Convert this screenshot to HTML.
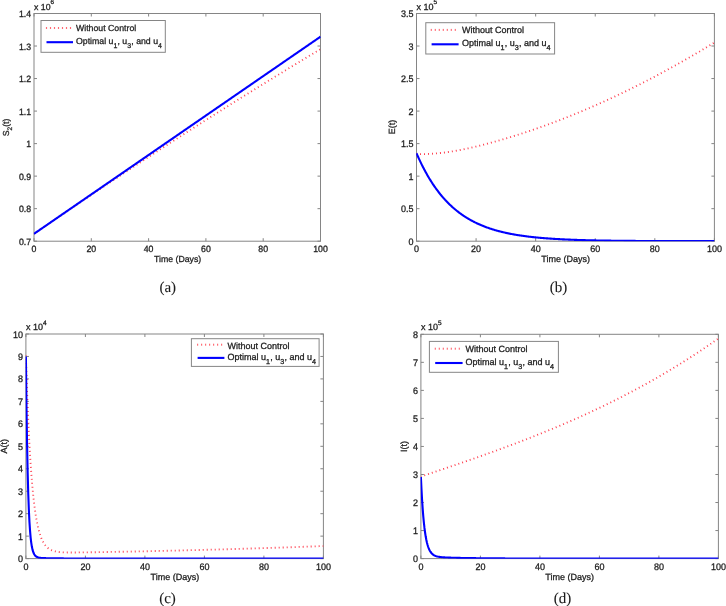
<!DOCTYPE html>
<html><head><meta charset="utf-8"><title>Figure</title>
<style>
html,body{margin:0;padding:0;background:#fff;}
body{width:726px;height:606px;overflow:hidden;}
svg{display:block;font-family:"Liberation Sans", sans-serif;will-change:transform;}
text{stroke:#222;stroke-width:0.28px;text-rendering:geometricPrecision;}
text.cap{stroke-width:0.1px;}
</style></head><body>
<svg width="726" height="606" viewBox="0 0 726 606">
<rect width="726" height="606" fill="#fff"/>
<path d="M34 241.2v-3M34 13.5v3M91.3 241.2v-3M91.3 13.5v3M148.6 241.2v-3M148.6 13.5v3M205.9 241.2v-3M205.9 13.5v3M263.2 241.2v-3M263.2 13.5v3M320.5 241.2v-3M320.5 13.5v3M34 241.2h3M320.5 241.2h-3M34 208.67h3M320.5 208.67h-3M34 176.14h3M320.5 176.14h-3M34 143.61h3M320.5 143.61h-3M34 111.09h3M320.5 111.09h-3M34 78.56h3M320.5 78.56h-3M34 46.03h3M320.5 46.03h-3M34 13.5h3M320.5 13.5h-3" stroke="#858585" stroke-width="1" fill="none"/>
<rect x="34" y="13.5" width="286.5" height="227.7" fill="none" stroke="#858585" stroke-width="1"/>
<g font-size="8.74" fill="#1a1a1a"><text transform="translate(34 251.6) scale(1 1.05)" text-anchor="middle">0</text><text transform="translate(91.3 251.6) scale(1 1.05)" text-anchor="middle">20</text><text transform="translate(148.6 251.6) scale(1 1.05)" text-anchor="middle">40</text><text transform="translate(205.9 251.6) scale(1 1.05)" text-anchor="middle">60</text><text transform="translate(263.2 251.6) scale(1 1.05)" text-anchor="middle">80</text><text transform="translate(320.5 251.6) scale(1 1.05)" text-anchor="middle">100</text><text transform="translate(31.1 244.68) scale(1 1.05)" text-anchor="end">0.7</text><text transform="translate(31.1 212.15) scale(1 1.05)" text-anchor="end">0.8</text><text transform="translate(31.1 179.63) scale(1 1.05)" text-anchor="end">0.9</text><text transform="translate(31.1 147.1) scale(1 1.05)" text-anchor="end">1</text><text transform="translate(31.1 114.57) scale(1 1.05)" text-anchor="end">1.1</text><text transform="translate(31.1 82.04) scale(1 1.05)" text-anchor="end">1.2</text><text transform="translate(31.1 49.51) scale(1 1.05)" text-anchor="end">1.3</text><text transform="translate(31.1 16.98) scale(1 1.05)" text-anchor="end">1.4</text></g>
<clipPath id="cA"><rect x="33.7" y="13.2" width="287.1" height="228.05"/></clipPath>
<g clip-path="url(#cA)">
<path d="M34 233.82 L34.29 233.62 L34.57 233.42 L34.86 233.22 L35.15 233.03 L35.43 232.83 L35.72 232.63 L36.01 232.44 L36.29 232.24 L36.58 232.04 L36.87 231.85 L37.15 231.65 L37.44 231.45 L37.73 231.25 L38.01 231.06 L38.3 230.86 L38.59 230.66 L38.87 230.47 L39.16 230.27 L39.45 230.07 L39.73 229.88 L40.02 229.68 L40.31 229.48 L40.59 229.29 L40.88 229.09 L41.16 228.89 L41.45 228.7 L41.74 228.5 L42.02 228.3 L42.31 228.11 L42.6 227.91 L42.88 227.72 L43.17 227.52 L43.46 227.32 L43.74 227.13 L44.03 226.93 L44.32 226.73 L44.6 226.54 L44.89 226.34 L45.18 226.14 L45.46 225.95 L45.75 225.75 L46.04 225.56 L46.32 225.36 L46.61 225.16 L46.9 224.97 L47.18 224.77 L47.47 224.58 L47.76 224.38 L48.04 224.18 L48.33 223.99 L48.62 223.79 L48.9 223.6 L49.19 223.4 L49.48 223.2 L49.76 223.01 L50.05 222.81 L50.34 222.62 L50.62 222.42 L50.91 222.23 L51.2 222.03 L51.48 221.83 L51.77 221.64 L52.06 221.44 L52.34 221.25 L52.63 221.05 L52.92 220.86 L53.2 220.66 L53.49 220.46 L53.78 220.27 L54.06 220.07 L54.35 219.88 L54.63 219.68 L54.92 219.49 L55.21 219.29 L55.49 219.1 L55.78 218.9 L56.07 218.71 L56.35 218.51 L56.64 218.32 L56.93 218.12 L57.21 217.93 L57.5 217.73 L57.79 217.53 L58.07 217.34 L58.36 217.14 L58.65 216.95 L58.93 216.75 L59.22 216.56 L59.51 216.36 L59.79 216.17 L60.08 215.97 L60.37 215.78 L60.65 215.58 L60.94 215.39 L61.23 215.19 L61.51 215 L61.8 214.81 L62.09 214.61 L62.37 214.42 L62.66 214.22 L62.95 214.03 L63.23 213.83 L63.52 213.64 L63.81 213.44 L64.09 213.25 L64.38 213.05 L64.67 212.86 L64.95 212.66 L65.24 212.47 L65.53 212.28 L65.81 212.08 L66.1 211.89 L66.39 211.69 L66.67 211.5 L66.96 211.3 L67.25 211.11 L67.53 210.91 L67.82 210.72 L68.1 210.53 L68.39 210.33 L68.68 210.14 L68.96 209.94 L69.25 209.75 L69.54 209.56 L69.82 209.36 L70.11 209.17 L70.4 208.97 L70.68 208.78 L70.97 208.59 L71.26 208.39 L71.54 208.2 L71.83 208 L72.12 207.81 L72.4 207.62 L72.69 207.42 L72.98 207.23 L73.26 207.03 L73.55 206.84 L73.84 206.65 L74.12 206.45 L74.41 206.26 L74.7 206.07 L74.98 205.87 L75.27 205.68 L75.56 205.48 L75.84 205.29 L76.13 205.1 L76.42 204.9 L76.7 204.71 L76.99 204.52 L77.28 204.32 L77.56 204.13 L77.85 203.94 L78.14 203.74 L78.42 203.55 L78.71 203.36 L79 203.16 L79.28 202.97 L79.57 202.78 L79.86 202.58 L80.14 202.39 L80.43 202.2 L80.72 202 L81 201.81 L81.29 201.62 L81.57 201.42 L81.86 201.23 L82.15 201.04 L82.43 200.85 L82.72 200.65 L83.01 200.46 L83.29 200.27 L83.58 200.07 L83.87 199.88 L84.15 199.69 L84.44 199.49 L84.73 199.3 L85.01 199.11 L85.3 198.92 L85.59 198.72 L85.87 198.53 L86.16 198.34 L86.45 198.15 L86.73 197.95 L87.02 197.76 L87.31 197.57 L87.59 197.38 L87.88 197.18 L88.17 196.99 L88.45 196.8 L88.74 196.61 L89.03 196.41 L89.31 196.22 L89.6 196.03 L89.89 195.84 L90.17 195.64 L90.46 195.45 L90.75 195.26 L91.03 195.07 L91.32 194.87 L91.61 194.68 L91.89 194.49 L92.18 194.3 L92.47 194.11 L92.75 193.91 L93.04 193.72 L93.33 193.53 L93.61 193.34 L93.9 193.15 L94.19 192.95 L94.47 192.76 L94.76 192.57 L95.04 192.38 L95.33 192.19 L95.62 191.99 L95.9 191.8 L96.19 191.61 L96.48 191.42 L96.76 191.23 L97.05 191.03 L97.34 190.84 L97.62 190.65 L97.91 190.46 L98.2 190.27 L98.48 190.08 L98.77 189.88 L99.06 189.69 L99.34 189.5 L99.63 189.31 L99.92 189.12 L100.2 188.93 L100.49 188.74 L100.78 188.54 L101.06 188.35 L101.35 188.16 L101.64 187.97 L101.92 187.78 L102.21 187.59 L102.5 187.4 L102.78 187.21 L103.07 187.01 L103.36 186.82 L103.64 186.63 L103.93 186.44 L104.22 186.25 L104.5 186.06 L104.79 185.87 L105.08 185.68 L105.36 185.48 L105.65 185.29 L105.94 185.1 L106.22 184.91 L106.51 184.72 L106.8 184.53 L107.08 184.34 L107.37 184.15 L107.66 183.96 L107.94 183.77 L108.23 183.58 L108.51 183.39 L108.8 183.19 L109.09 183 L109.37 182.81 L109.66 182.62 L109.95 182.43 L110.23 182.24 L110.52 182.05 L110.81 181.86 L111.09 181.67 L111.38 181.48 L111.67 181.29 L111.95 181.1 L112.24 180.91 L112.53 180.72 L112.81 180.53 L113.1 180.34 L113.39 180.15 L113.67 179.96 L113.96 179.77 L114.25 179.58 L114.53 179.39 L114.82 179.19 L115.11 179 L115.39 178.81 L115.68 178.62 L115.97 178.43 L116.25 178.24 L116.54 178.05 L116.83 177.86 L117.11 177.67 L117.4 177.48 L117.69 177.29 L117.97 177.1 L118.26 176.91 L118.55 176.72 L118.83 176.53 L119.12 176.34 L119.41 176.16 L119.69 175.97 L119.98 175.78 L120.27 175.59 L120.55 175.4 L120.84 175.21 L121.13 175.02 L121.41 174.83 L121.7 174.64 L121.98 174.45 L122.27 174.26 L122.56 174.07 L122.84 173.88 L123.13 173.69 L123.42 173.5 L123.7 173.31 L123.99 173.12 L124.28 172.93 L124.56 172.74 L124.85 172.55 L125.14 172.36 L125.42 172.17 L125.71 171.99 L126 171.8 L126.28 171.61 L126.57 171.42 L126.86 171.23 L127.14 171.04 L127.43 170.85 L127.72 170.66 L128 170.47 L128.29 170.28 L128.58 170.09 L128.86 169.91 L129.15 169.72 L129.44 169.53 L129.72 169.34 L130.01 169.15 L130.3 168.96 L130.58 168.77 L130.87 168.58 L131.16 168.39 L131.44 168.21 L131.73 168.02 L132.02 167.83 L132.3 167.64 L132.59 167.45 L132.88 167.26 L133.16 167.07 L133.45 166.88 L133.74 166.7 L134.02 166.51 L134.31 166.32 L134.6 166.13 L134.88 165.94 L135.17 165.75 L135.45 165.57 L135.74 165.38 L136.03 165.19 L136.31 165 L136.6 164.81 L136.89 164.62 L137.17 164.44 L137.46 164.25 L137.75 164.06 L138.03 163.87 L138.32 163.68 L138.61 163.49 L138.89 163.31 L139.18 163.12 L139.47 162.93 L139.75 162.74 L140.04 162.55 L140.33 162.37 L140.61 162.18 L140.9 161.99 L141.19 161.8 L141.47 161.61 L141.76 161.43 L142.05 161.24 L142.33 161.05 L142.62 160.86 L142.91 160.68 L143.19 160.49 L143.48 160.3 L143.77 160.11 L144.05 159.92 L144.34 159.74 L144.63 159.55 L144.91 159.36 L145.2 159.17 L145.49 158.99 L145.77 158.8 L146.06 158.61 L146.35 158.42 L146.63 158.24 L146.92 158.05 L147.21 157.86 L147.49 157.67 L147.78 157.49 L148.07 157.3 L148.35 157.11 L148.64 156.92 L148.92 156.74 L149.21 156.55 L149.5 156.36 L149.78 156.18 L150.07 155.99 L150.36 155.8 L150.64 155.61 L150.93 155.43 L151.22 155.24 L151.5 155.05 L151.79 154.87 L152.08 154.68 L152.36 154.49 L152.65 154.31 L152.94 154.12 L153.22 153.93 L153.51 153.74 L153.8 153.56 L154.08 153.37 L154.37 153.18 L154.66 153 L154.94 152.81 L155.23 152.62 L155.52 152.44 L155.8 152.25 L156.09 152.06 L156.38 151.88 L156.66 151.69 L156.95 151.5 L157.24 151.32 L157.52 151.13 L157.81 150.94 L158.1 150.76 L158.38 150.57 L158.67 150.39 L158.96 150.2 L159.24 150.01 L159.53 149.83 L159.82 149.64 L160.1 149.45 L160.39 149.27 L160.68 149.08 L160.96 148.9 L161.25 148.71 L161.54 148.52 L161.82 148.34 L162.11 148.15 L162.39 147.96 L162.68 147.78 L162.97 147.59 L163.25 147.41 L163.54 147.22 L163.83 147.03 L164.11 146.85 L164.4 146.66 L164.69 146.48 L164.97 146.29 L165.26 146.1 L165.55 145.92 L165.83 145.73 L166.12 145.55 L166.41 145.36 L166.69 145.18 L166.98 144.99 L167.27 144.8 L167.55 144.62 L167.84 144.43 L168.13 144.25 L168.41 144.06 L168.7 143.88 L168.99 143.69 L169.27 143.51 L169.56 143.32 L169.85 143.13 L170.13 142.95 L170.42 142.76 L170.71 142.58 L170.99 142.39 L171.28 142.21 L171.57 142.02 L171.85 141.84 L172.14 141.65 L172.43 141.47 L172.71 141.28 L173 141.1 L173.29 140.91 L173.57 140.73 L173.86 140.54 L174.15 140.36 L174.43 140.17 L174.72 139.99 L175.01 139.8 L175.29 139.62 L175.58 139.43 L175.86 139.25 L176.15 139.06 L176.44 138.88 L176.72 138.69 L177.01 138.51 L177.3 138.32 L177.58 138.14 L177.87 137.95 L178.16 137.77 L178.44 137.58 L178.73 137.4 L179.02 137.21 L179.3 137.03 L179.59 136.84 L179.88 136.66 L180.16 136.48 L180.45 136.29 L180.74 136.11 L181.02 135.92 L181.31 135.74 L181.6 135.55 L181.88 135.37 L182.17 135.18 L182.46 135 L182.74 134.82 L183.03 134.63 L183.32 134.45 L183.6 134.26 L183.89 134.08 L184.18 133.89 L184.46 133.71 L184.75 133.53 L185.04 133.34 L185.32 133.16 L185.61 132.97 L185.9 132.79 L186.18 132.61 L186.47 132.42 L186.76 132.24 L187.04 132.05 L187.33 131.87 L187.62 131.69 L187.9 131.5 L188.19 131.32 L188.47 131.13 L188.76 130.95 L189.05 130.77 L189.33 130.58 L189.62 130.4 L189.91 130.22 L190.19 130.03 L190.48 129.85 L190.77 129.66 L191.05 129.48 L191.34 129.3 L191.63 129.11 L191.91 128.93 L192.2 128.75 L192.49 128.56 L192.77 128.38 L193.06 128.2 L193.35 128.01 L193.63 127.83 L193.92 127.65 L194.21 127.46 L194.49 127.28 L194.78 127.1 L195.07 126.91 L195.35 126.73 L195.64 126.55 L195.93 126.36 L196.21 126.18 L196.5 126 L196.79 125.81 L197.07 125.63 L197.36 125.45 L197.65 125.26 L197.93 125.08 L198.22 124.9 L198.51 124.72 L198.79 124.53 L199.08 124.35 L199.37 124.17 L199.65 123.98 L199.94 123.8 L200.23 123.62 L200.51 123.44 L200.8 123.25 L201.09 123.07 L201.37 122.89 L201.66 122.7 L201.94 122.52 L202.23 122.34 L202.52 122.16 L202.8 121.97 L203.09 121.79 L203.38 121.61 L203.66 121.43 L203.95 121.24 L204.24 121.06 L204.52 120.88 L204.81 120.7 L205.1 120.51 L205.38 120.33 L205.67 120.15 L205.96 119.97 L206.24 119.78 L206.53 119.6 L206.82 119.42 L207.1 119.24 L207.39 119.06 L207.68 118.87 L207.96 118.69 L208.25 118.51 L208.54 118.33 L208.82 118.15 L209.11 117.96 L209.4 117.78 L209.68 117.6 L209.97 117.42 L210.26 117.24 L210.54 117.05 L210.83 116.87 L211.12 116.69 L211.4 116.51 L211.69 116.33 L211.98 116.14 L212.26 115.96 L212.55 115.78 L212.84 115.6 L213.12 115.42 L213.41 115.24 L213.7 115.05 L213.98 114.87 L214.27 114.69 L214.56 114.51 L214.84 114.33 L215.13 114.15 L215.41 113.96 L215.7 113.78 L215.99 113.6 L216.27 113.42 L216.56 113.24 L216.85 113.06 L217.13 112.88 L217.42 112.69 L217.71 112.51 L217.99 112.33 L218.28 112.15 L218.57 111.97 L218.85 111.79 L219.14 111.61 L219.43 111.43 L219.71 111.25 L220 111.06 L220.29 110.88 L220.57 110.7 L220.86 110.52 L221.15 110.34 L221.43 110.16 L221.72 109.98 L222.01 109.8 L222.29 109.62 L222.58 109.44 L222.87 109.25 L223.15 109.07 L223.44 108.89 L223.73 108.71 L224.01 108.53 L224.3 108.35 L224.59 108.17 L224.87 107.99 L225.16 107.81 L225.45 107.63 L225.73 107.45 L226.02 107.27 L226.31 107.09 L226.59 106.91 L226.88 106.72 L227.17 106.54 L227.45 106.36 L227.74 106.18 L228.03 106 L228.31 105.82 L228.6 105.64 L228.88 105.46 L229.17 105.28 L229.46 105.1 L229.74 104.92 L230.03 104.74 L230.32 104.56 L230.6 104.38 L230.89 104.2 L231.18 104.02 L231.46 103.84 L231.75 103.66 L232.04 103.48 L232.32 103.3 L232.61 103.12 L232.9 102.94 L233.18 102.76 L233.47 102.58 L233.76 102.4 L234.04 102.22 L234.33 102.04 L234.62 101.86 L234.9 101.68 L235.19 101.5 L235.48 101.32 L235.76 101.14 L236.05 100.96 L236.34 100.78 L236.62 100.6 L236.91 100.42 L237.2 100.24 L237.48 100.06 L237.77 99.88 L238.06 99.7 L238.34 99.52 L238.63 99.35 L238.92 99.17 L239.2 98.99 L239.49 98.81 L239.78 98.63 L240.06 98.45 L240.35 98.27 L240.64 98.09 L240.92 97.91 L241.21 97.73 L241.5 97.55 L241.78 97.37 L242.07 97.19 L242.35 97.01 L242.64 96.84 L242.93 96.66 L243.21 96.48 L243.5 96.3 L243.79 96.12 L244.07 95.94 L244.36 95.76 L244.65 95.58 L244.93 95.4 L245.22 95.22 L245.51 95.05 L245.79 94.87 L246.08 94.69 L246.37 94.51 L246.65 94.33 L246.94 94.15 L247.23 93.97 L247.51 93.79 L247.8 93.61 L248.09 93.44 L248.37 93.26 L248.66 93.08 L248.95 92.9 L249.23 92.72 L249.52 92.54 L249.81 92.36 L250.09 92.19 L250.38 92.01 L250.67 91.83 L250.95 91.65 L251.24 91.47 L251.53 91.29 L251.81 91.12 L252.1 90.94 L252.39 90.76 L252.67 90.58 L252.96 90.4 L253.25 90.22 L253.53 90.05 L253.82 89.87 L254.11 89.69 L254.39 89.51 L254.68 89.33 L254.97 89.16 L255.25 88.98 L255.54 88.8 L255.82 88.62 L256.11 88.44 L256.4 88.27 L256.68 88.09 L256.97 87.91 L257.26 87.73 L257.54 87.55 L257.83 87.38 L258.12 87.2 L258.4 87.02 L258.69 86.84 L258.98 86.66 L259.26 86.49 L259.55 86.31 L259.84 86.13 L260.12 85.95 L260.41 85.78 L260.7 85.6 L260.98 85.42 L261.27 85.24 L261.56 85.07 L261.84 84.89 L262.13 84.71 L262.42 84.53 L262.7 84.36 L262.99 84.18 L263.28 84 L263.56 83.82 L263.85 83.65 L264.14 83.47 L264.42 83.29 L264.71 83.12 L265 82.94 L265.28 82.76 L265.57 82.58 L265.86 82.41 L266.14 82.23 L266.43 82.05 L266.72 81.88 L267 81.7 L267.29 81.52 L267.58 81.34 L267.86 81.17 L268.15 80.99 L268.44 80.81 L268.72 80.64 L269.01 80.46 L269.29 80.28 L269.58 80.11 L269.87 79.93 L270.15 79.75 L270.44 79.58 L270.73 79.4 L271.01 79.22 L271.3 79.05 L271.59 78.87 L271.87 78.69 L272.16 78.52 L272.45 78.34 L272.73 78.16 L273.02 77.99 L273.31 77.81 L273.59 77.63 L273.88 77.46 L274.17 77.28 L274.45 77.1 L274.74 76.93 L275.03 76.75 L275.31 76.58 L275.6 76.4 L275.89 76.22 L276.17 76.05 L276.46 75.87 L276.75 75.69 L277.03 75.52 L277.32 75.34 L277.61 75.17 L277.89 74.99 L278.18 74.81 L278.47 74.64 L278.75 74.46 L279.04 74.29 L279.33 74.11 L279.61 73.93 L279.9 73.76 L280.19 73.58 L280.47 73.41 L280.76 73.23 L281.05 73.05 L281.33 72.88 L281.62 72.7 L281.91 72.53 L282.19 72.35 L282.48 72.18 L282.76 72 L283.05 71.82 L283.34 71.65 L283.62 71.47 L283.91 71.3 L284.2 71.12 L284.48 70.95 L284.77 70.77 L285.06 70.6 L285.34 70.42 L285.63 70.24 L285.92 70.07 L286.2 69.89 L286.49 69.72 L286.78 69.54 L287.06 69.37 L287.35 69.19 L287.64 69.02 L287.92 68.84 L288.21 68.67 L288.5 68.49 L288.78 68.32 L289.07 68.14 L289.36 67.97 L289.64 67.79 L289.93 67.62 L290.22 67.44 L290.5 67.27 L290.79 67.09 L291.08 66.92 L291.36 66.74 L291.65 66.57 L291.94 66.39 L292.22 66.22 L292.51 66.04 L292.8 65.87 L293.08 65.69 L293.37 65.52 L293.66 65.34 L293.94 65.17 L294.23 64.99 L294.52 64.82 L294.8 64.64 L295.09 64.47 L295.38 64.29 L295.66 64.12 L295.95 63.95 L296.23 63.77 L296.52 63.6 L296.81 63.42 L297.09 63.25 L297.38 63.07 L297.67 62.9 L297.95 62.72 L298.24 62.55 L298.53 62.38 L298.81 62.2 L299.1 62.03 L299.39 61.85 L299.67 61.68 L299.96 61.5 L300.25 61.33 L300.53 61.16 L300.82 60.98 L301.11 60.81 L301.39 60.63 L301.68 60.46 L301.97 60.29 L302.25 60.11 L302.54 59.94 L302.83 59.76 L303.11 59.59 L303.4 59.42 L303.69 59.24 L303.97 59.07 L304.26 58.9 L304.55 58.72 L304.83 58.55 L305.12 58.37 L305.41 58.2 L305.69 58.03 L305.98 57.85 L306.27 57.68 L306.55 57.51 L306.84 57.33 L307.13 57.16 L307.41 56.98 L307.7 56.81 L307.99 56.64 L308.27 56.46 L308.56 56.29 L308.85 56.12 L309.13 55.94 L309.42 55.77 L309.7 55.6 L309.99 55.42 L310.28 55.25 L310.56 55.08 L310.85 54.9 L311.14 54.73 L311.42 54.56 L311.71 54.38 L312 54.21 L312.28 54.04 L312.57 53.87 L312.86 53.69 L313.14 53.52 L313.43 53.35 L313.72 53.17 L314 53 L314.29 52.83 L314.58 52.65 L314.86 52.48 L315.15 52.31 L315.44 52.14 L315.72 51.96 L316.01 51.79 L316.3 51.62 L316.58 51.44 L316.87 51.27 L317.16 51.1 L317.44 50.93 L317.73 50.75 L318.02 50.58 L318.3 50.41 L318.59 50.24 L318.88 50.06 L319.16 49.89 L319.45 49.72 L319.74 49.55 L320.02 49.37 L320.31 49.2 L320.5 49.09" fill="none" stroke="#ff4050" stroke-width="1.85" stroke-dasharray="1.0 3" stroke-dashoffset="0.5"/>
<path d="M34 233.82 L34.57 233.42 L35.15 233.03 L35.72 232.63 L36.29 232.24 L36.87 231.84 L37.44 231.45 L38.01 231.05 L38.59 230.66 L39.16 230.27 L39.73 229.87 L40.31 229.48 L40.88 229.08 L41.45 228.69 L42.03 228.29 L42.6 227.9 L43.17 227.5 L43.75 227.11 L44.32 226.72 L44.89 226.32 L45.47 225.93 L46.04 225.53 L46.61 225.14 L47.19 224.74 L47.76 224.35 L48.33 223.95 L48.91 223.56 L49.48 223.17 L50.05 222.77 L50.63 222.38 L51.2 221.98 L51.77 221.59 L52.35 221.19 L52.92 220.8 L53.49 220.4 L54.07 220.01 L54.64 219.62 L55.21 219.22 L55.78 218.83 L56.36 218.43 L56.93 218.04 L57.5 217.64 L58.08 217.25 L58.65 216.85 L59.22 216.46 L59.8 216.07 L60.37 215.67 L60.94 215.28 L61.52 214.88 L62.09 214.49 L62.66 214.09 L63.24 213.7 L63.81 213.3 L64.38 212.91 L64.96 212.52 L65.53 212.12 L66.1 211.73 L66.68 211.33 L67.25 210.94 L67.82 210.54 L68.4 210.15 L68.97 209.75 L69.54 209.36 L70.12 208.97 L70.69 208.57 L71.26 208.18 L71.84 207.78 L72.41 207.39 L72.98 206.99 L73.56 206.6 L74.13 206.2 L74.7 205.81 L75.28 205.42 L75.85 205.02 L76.42 204.63 L77 204.23 L77.57 203.84 L78.14 203.44 L78.72 203.05 L79.29 202.65 L79.86 202.26 L80.44 201.87 L81.01 201.47 L81.58 201.08 L82.16 200.68 L82.73 200.29 L83.3 199.89 L83.88 199.5 L84.45 199.1 L85.02 198.71 L85.6 198.32 L86.17 197.92 L86.74 197.53 L87.32 197.13 L87.89 196.74 L88.46 196.34 L89.04 195.95 L89.61 195.55 L90.18 195.16 L90.76 194.77 L91.33 194.37 L91.9 193.98 L92.48 193.58 L93.05 193.19 L93.62 192.79 L94.2 192.4 L94.77 192.01 L95.34 191.61 L95.91 191.22 L96.49 190.82 L97.06 190.43 L97.63 190.03 L98.21 189.64 L98.78 189.24 L99.35 188.85 L99.93 188.46 L100.5 188.06 L101.07 187.67 L101.65 187.27 L102.22 186.88 L102.79 186.48 L103.37 186.09 L103.94 185.69 L104.51 185.3 L105.09 184.91 L105.66 184.51 L106.23 184.12 L106.81 183.72 L107.38 183.33 L107.95 182.93 L108.53 182.54 L109.1 182.14 L109.67 181.75 L110.25 181.36 L110.82 180.96 L111.39 180.57 L111.97 180.17 L112.54 179.78 L113.11 179.38 L113.69 178.99 L114.26 178.59 L114.83 178.2 L115.41 177.81 L115.98 177.41 L116.55 177.02 L117.13 176.62 L117.7 176.23 L118.27 175.83 L118.85 175.44 L119.42 175.04 L119.99 174.65 L120.57 174.26 L121.14 173.86 L121.71 173.47 L122.29 173.07 L122.86 172.68 L123.43 172.28 L124.01 171.89 L124.58 171.49 L125.15 171.1 L125.73 170.71 L126.3 170.31 L126.87 169.92 L127.45 169.52 L128.02 169.13 L128.59 168.73 L129.17 168.34 L129.74 167.94 L130.31 167.55 L130.89 167.16 L131.46 166.76 L132.03 166.37 L132.61 165.97 L133.18 165.58 L133.75 165.18 L134.33 164.79 L134.9 164.39 L135.47 164 L136.05 163.61 L136.62 163.21 L137.19 162.82 L137.76 162.42 L138.34 162.03 L138.91 161.63 L139.48 161.24 L140.06 160.84 L140.63 160.45 L141.2 160.06 L141.78 159.66 L142.35 159.27 L142.92 158.87 L143.5 158.48 L144.07 158.08 L144.64 157.69 L145.22 157.29 L145.79 156.9 L146.36 156.51 L146.94 156.11 L147.51 155.72 L148.08 155.32 L148.66 154.93 L149.23 154.53 L149.8 154.14 L150.38 153.74 L150.95 153.35 L151.52 152.96 L152.1 152.56 L152.67 152.17 L153.24 151.77 L153.82 151.38 L154.39 150.98 L154.96 150.59 L155.54 150.19 L156.11 149.8 L156.68 149.41 L157.26 149.01 L157.83 148.62 L158.4 148.22 L158.98 147.83 L159.55 147.43 L160.12 147.04 L160.7 146.64 L161.27 146.25 L161.84 145.86 L162.42 145.46 L162.99 145.07 L163.56 144.67 L164.14 144.28 L164.71 143.88 L165.28 143.49 L165.86 143.09 L166.43 142.7 L167 142.31 L167.58 141.91 L168.15 141.52 L168.72 141.12 L169.3 140.73 L169.87 140.33 L170.44 139.94 L171.02 139.54 L171.59 139.15 L172.16 138.76 L172.74 138.36 L173.31 137.97 L173.88 137.57 L174.46 137.18 L175.03 136.78 L175.6 136.39 L176.18 135.99 L176.75 135.6 L177.32 135.21 L177.89 134.81 L178.47 134.42 L179.04 134.02 L179.61 133.63 L180.19 133.23 L180.76 132.84 L181.33 132.44 L181.91 132.05 L182.48 131.66 L183.05 131.26 L183.63 130.87 L184.2 130.47 L184.77 130.08 L185.35 129.68 L185.92 129.29 L186.49 128.89 L187.07 128.5 L187.64 128.11 L188.21 127.71 L188.79 127.32 L189.36 126.92 L189.93 126.53 L190.51 126.13 L191.08 125.74 L191.65 125.34 L192.23 124.95 L192.8 124.56 L193.37 124.16 L193.95 123.77 L194.52 123.37 L195.09 122.98 L195.67 122.58 L196.24 122.19 L196.81 121.79 L197.39 121.4 L197.96 121.01 L198.53 120.61 L199.11 120.22 L199.68 119.82 L200.25 119.43 L200.83 119.03 L201.4 118.64 L201.97 118.24 L202.55 117.85 L203.12 117.46 L203.69 117.06 L204.27 116.67 L204.84 116.27 L205.41 115.88 L205.99 115.48 L206.56 115.09 L207.13 114.69 L207.71 114.3 L208.28 113.91 L208.85 113.51 L209.43 113.12 L210 112.72 L210.57 112.33 L211.15 111.93 L211.72 111.54 L212.29 111.14 L212.87 110.75 L213.44 110.36 L214.01 109.96 L214.59 109.57 L215.16 109.17 L215.73 108.78 L216.31 108.38 L216.88 107.99 L217.45 107.59 L218.03 107.2 L218.6 106.81 L219.17 106.41 L219.74 106.02 L220.32 105.62 L220.89 105.23 L221.46 104.83 L222.04 104.44 L222.61 104.04 L223.18 103.65 L223.76 103.26 L224.33 102.86 L224.9 102.47 L225.48 102.07 L226.05 101.68 L226.62 101.28 L227.2 100.89 L227.77 100.49 L228.34 100.1 L228.92 99.71 L229.49 99.31 L230.06 98.92 L230.64 98.52 L231.21 98.13 L231.78 97.73 L232.36 97.34 L232.93 96.94 L233.5 96.55 L234.08 96.16 L234.65 95.76 L235.22 95.37 L235.8 94.97 L236.37 94.58 L236.94 94.18 L237.52 93.79 L238.09 93.39 L238.66 93 L239.24 92.61 L239.81 92.21 L240.38 91.82 L240.96 91.42 L241.53 91.03 L242.1 90.63 L242.68 90.24 L243.25 89.84 L243.82 89.45 L244.4 89.06 L244.97 88.66 L245.54 88.27 L246.12 87.87 L246.69 87.48 L247.26 87.08 L247.84 86.69 L248.41 86.29 L248.98 85.9 L249.56 85.51 L250.13 85.11 L250.7 84.72 L251.28 84.32 L251.85 83.93 L252.42 83.53 L253 83.14 L253.57 82.74 L254.14 82.35 L254.72 81.96 L255.29 81.56 L255.86 81.17 L256.44 80.77 L257.01 80.38 L257.58 79.98 L258.16 79.59 L258.73 79.19 L259.3 78.8 L259.87 78.41 L260.45 78.01 L261.02 77.62 L261.59 77.22 L262.17 76.83 L262.74 76.43 L263.31 76.04 L263.89 75.64 L264.46 75.25 L265.03 74.86 L265.61 74.46 L266.18 74.07 L266.75 73.67 L267.33 73.28 L267.9 72.88 L268.47 72.49 L269.05 72.09 L269.62 71.7 L270.19 71.31 L270.77 70.91 L271.34 70.52 L271.91 70.12 L272.49 69.73 L273.06 69.33 L273.63 68.94 L274.21 68.54 L274.78 68.15 L275.35 67.76 L275.93 67.36 L276.5 66.97 L277.07 66.57 L277.65 66.18 L278.22 65.78 L278.79 65.39 L279.37 64.99 L279.94 64.6 L280.51 64.21 L281.09 63.81 L281.66 63.42 L282.23 63.02 L282.81 62.63 L283.38 62.23 L283.95 61.84 L284.53 61.44 L285.1 61.05 L285.67 60.66 L286.25 60.26 L286.82 59.87 L287.39 59.47 L287.97 59.08 L288.54 58.68 L289.11 58.29 L289.69 57.89 L290.26 57.5 L290.83 57.11 L291.41 56.71 L291.98 56.32 L292.55 55.92 L293.13 55.53 L293.7 55.13 L294.27 54.74 L294.85 54.34 L295.42 53.95 L295.99 53.56 L296.57 53.16 L297.14 52.77 L297.71 52.37 L298.29 51.98 L298.86 51.58 L299.43 51.19 L300.01 50.79 L300.58 50.4 L301.15 50.01 L301.72 49.61 L302.3 49.22 L302.87 48.82 L303.44 48.43 L304.02 48.03 L304.59 47.64 L305.16 47.24 L305.74 46.85 L306.31 46.46 L306.88 46.06 L307.46 45.67 L308.03 45.27 L308.6 44.88 L309.18 44.48 L309.75 44.09 L310.32 43.69 L310.9 43.3 L311.47 42.91 L312.04 42.51 L312.62 42.12 L313.19 41.72 L313.76 41.33 L314.34 40.93 L314.91 40.54 L315.48 40.14 L316.06 39.75 L316.63 39.36 L317.2 38.96 L317.78 38.57 L318.35 38.17 L318.92 37.78 L319.5 37.38 L320.07 36.99 L320.5 36.69" fill="none" stroke="#0000ff" stroke-width="2.1" stroke-linejoin="round" stroke-linecap="butt"/>
</g>
<rect x="41" y="20.5" width="124.3" height="31.8" fill="#fff" stroke="#858585" stroke-width="1"/>
<g fill="#ff6a74"><rect x="45.92" y="27" width="1.15" height="2"/><rect x="49.92" y="27" width="1.15" height="2"/><rect x="53.92" y="27" width="1.15" height="2"/><rect x="57.92" y="27" width="1.15" height="2"/><rect x="61.92" y="27" width="1.15" height="2"/><rect x="65.92" y="27" width="1.15" height="2"/><rect x="69.92" y="27" width="1.15" height="2"/></g>
<path d="M46.5 42.2H73" stroke="#0000ff" stroke-width="2.1"/>
<g font-size="8.74" fill="#1a1a1a"><text transform="translate(76 31.2) scale(1 1.0)">Without Control</text><text transform="translate(76 43.6) scale(1 1.0)">Optimal u<tspan font-size="6.99" dy="4.11">1</tspan><tspan dx="0.2" dy="-4.11">, u</tspan><tspan font-size="6.99" dy="4.11">3</tspan><tspan dx="0.2" dy="-4.11">, and u</tspan><tspan font-size="6.99" dy="4.11">4</tspan></text></g>
<text transform="translate(34 9.6) scale(1 1.0)" font-size="8.74" fill="#1a1a1a">x 10<tspan font-size="6.29" dy="-5.42">6</tspan></text>
<text transform="translate(9 127.4) rotate(-90) scale(1 1.0)" text-anchor="middle" font-size="8.74" fill="#1a1a1a">S<tspan font-size="6.5" dy="2.5">2</tspan><tspan dy="-2.5">(t)</tspan></text>
<text transform="translate(177.6 262) scale(1 1.0)" text-anchor="middle" font-size="8.74" fill="#1a1a1a">Time (Days)</text>
<text class="cap" x="167.8" y="291.8" text-anchor="middle" font-family='"Liberation Serif", serif' font-size="15" fill="#1a1a1a">(a)</text>
<path d="M416.5 241.2v-3M416.5 13.5v3M476.08 241.2v-3M476.08 13.5v3M535.66 241.2v-3M535.66 13.5v3M595.24 241.2v-3M595.24 13.5v3M654.82 241.2v-3M654.82 13.5v3M714.4 241.2v-3M714.4 13.5v3M416.5 241.2h3M714.4 241.2h-3M416.5 208.67h3M714.4 208.67h-3M416.5 176.14h3M714.4 176.14h-3M416.5 143.61h3M714.4 143.61h-3M416.5 111.09h3M714.4 111.09h-3M416.5 78.56h3M714.4 78.56h-3M416.5 46.03h3M714.4 46.03h-3M416.5 13.5h3M714.4 13.5h-3" stroke="#858585" stroke-width="1" fill="none"/>
<rect x="416.5" y="13.5" width="297.9" height="227.7" fill="none" stroke="#858585" stroke-width="1"/>
<g font-size="9.0" fill="#1a1a1a"><text transform="translate(416.5 251.6) scale(1 1.05)" text-anchor="middle">0</text><text transform="translate(476.08 251.6) scale(1 1.05)" text-anchor="middle">20</text><text transform="translate(535.66 251.6) scale(1 1.05)" text-anchor="middle">40</text><text transform="translate(595.24 251.6) scale(1 1.05)" text-anchor="middle">60</text><text transform="translate(654.82 251.6) scale(1 1.05)" text-anchor="middle">80</text><text transform="translate(714.4 251.6) scale(1 1.05)" text-anchor="middle">100</text><text transform="translate(413.6 244.76) scale(1 1.05)" text-anchor="end">0</text><text transform="translate(413.6 212.24) scale(1 1.05)" text-anchor="end">0.5</text><text transform="translate(413.6 179.71) scale(1 1.05)" text-anchor="end">1</text><text transform="translate(413.6 147.18) scale(1 1.05)" text-anchor="end">1.5</text><text transform="translate(413.6 114.65) scale(1 1.05)" text-anchor="end">2</text><text transform="translate(413.6 82.12) scale(1 1.05)" text-anchor="end">2.5</text><text transform="translate(413.6 49.59) scale(1 1.05)" text-anchor="end">3</text><text transform="translate(413.6 17.07) scale(1 1.05)" text-anchor="end">3.5</text></g>
<clipPath id="cB"><rect x="416.2" y="13.2" width="298.5" height="228.05"/></clipPath>
<g clip-path="url(#cB)">
<path d="M416.5 154.09 L416.8 154.09 L417.1 154.1 L417.39 154.11 L417.69 154.11 L417.99 154.12 L418.29 154.12 L418.59 154.12 L418.88 154.13 L419.18 154.13 L419.48 154.13 L419.78 154.13 L420.08 154.13 L420.37 154.13 L420.67 154.13 L420.97 154.13 L421.27 154.13 L421.57 154.13 L421.86 154.13 L422.16 154.12 L422.46 154.12 L422.76 154.12 L423.06 154.11 L423.35 154.11 L423.65 154.1 L423.95 154.1 L424.25 154.09 L424.55 154.08 L424.84 154.07 L425.14 154.07 L425.44 154.06 L425.74 154.05 L426.04 154.04 L426.33 154.03 L426.63 154.02 L426.93 154.01 L427.23 153.99 L427.53 153.98 L427.82 153.97 L428.12 153.96 L428.42 153.94 L428.72 153.93 L429.02 153.91 L429.31 153.9 L429.61 153.88 L429.91 153.87 L430.21 153.85 L430.51 153.83 L430.8 153.82 L431.1 153.8 L431.4 153.78 L431.7 153.76 L432 153.74 L432.29 153.72 L432.59 153.7 L432.89 153.68 L433.19 153.66 L433.49 153.64 L433.78 153.61 L434.08 153.59 L434.38 153.57 L434.68 153.55 L434.98 153.52 L435.27 153.5 L435.57 153.47 L435.87 153.45 L436.17 153.42 L436.47 153.39 L436.76 153.37 L437.06 153.34 L437.36 153.31 L437.66 153.28 L437.96 153.26 L438.25 153.23 L438.55 153.2 L438.85 153.17 L439.15 153.14 L439.45 153.11 L439.74 153.07 L440.04 153.04 L440.34 153.01 L440.64 152.98 L440.94 152.95 L441.23 152.91 L441.53 152.88 L441.83 152.84 L442.13 152.81 L442.43 152.77 L442.72 152.74 L443.02 152.7 L443.32 152.67 L443.62 152.63 L443.92 152.59 L444.21 152.56 L444.51 152.52 L444.81 152.48 L445.11 152.44 L445.41 152.4 L445.7 152.36 L446 152.32 L446.3 152.28 L446.6 152.24 L446.9 152.2 L447.19 152.16 L447.49 152.12 L447.79 152.07 L448.09 152.03 L448.39 151.99 L448.68 151.95 L448.98 151.9 L449.28 151.86 L449.58 151.81 L449.88 151.77 L450.17 151.72 L450.47 151.68 L450.77 151.63 L451.07 151.59 L451.37 151.54 L451.66 151.49 L451.96 151.44 L452.26 151.4 L452.56 151.35 L452.86 151.3 L453.15 151.25 L453.45 151.2 L453.75 151.15 L454.05 151.1 L454.35 151.05 L454.64 151 L454.94 150.95 L455.24 150.9 L455.54 150.85 L455.84 150.79 L456.13 150.74 L456.43 150.69 L456.73 150.64 L457.03 150.58 L457.33 150.53 L457.62 150.47 L457.92 150.42 L458.22 150.36 L458.52 150.31 L458.82 150.25 L459.11 150.2 L459.41 150.14 L459.71 150.09 L460.01 150.03 L460.31 149.97 L460.6 149.92 L460.9 149.86 L461.2 149.8 L461.5 149.74 L461.8 149.68 L462.09 149.62 L462.39 149.56 L462.69 149.5 L462.99 149.45 L463.29 149.38 L463.58 149.32 L463.88 149.26 L464.18 149.2 L464.48 149.14 L464.78 149.08 L465.07 149.02 L465.37 148.96 L465.67 148.89 L465.97 148.83 L466.27 148.77 L466.56 148.7 L466.86 148.64 L467.16 148.58 L467.46 148.51 L467.76 148.45 L468.05 148.38 L468.35 148.32 L468.65 148.25 L468.95 148.19 L469.25 148.12 L469.54 148.06 L469.84 147.99 L470.14 147.92 L470.44 147.86 L470.74 147.79 L471.03 147.72 L471.33 147.65 L471.63 147.59 L471.93 147.52 L472.23 147.45 L472.52 147.38 L472.82 147.31 L473.12 147.24 L473.42 147.17 L473.72 147.1 L474.01 147.03 L474.31 146.96 L474.61 146.89 L474.91 146.82 L475.21 146.75 L475.5 146.68 L475.8 146.61 L476.1 146.54 L476.4 146.46 L476.7 146.39 L476.99 146.32 L477.29 146.25 L477.59 146.18 L477.89 146.1 L478.19 146.03 L478.48 145.96 L478.78 145.88 L479.08 145.81 L479.38 145.73 L479.68 145.66 L479.97 145.59 L480.27 145.51 L480.57 145.44 L480.87 145.36 L481.17 145.29 L481.46 145.21 L481.76 145.14 L482.06 145.06 L482.36 144.98 L482.66 144.91 L482.95 144.83 L483.25 144.75 L483.55 144.68 L483.85 144.6 L484.15 144.52 L484.44 144.45 L484.74 144.37 L485.04 144.29 L485.34 144.21 L485.64 144.13 L485.93 144.06 L486.23 143.98 L486.53 143.9 L486.83 143.82 L487.13 143.74 L487.42 143.66 L487.72 143.58 L488.02 143.5 L488.32 143.42 L488.62 143.34 L488.91 143.26 L489.21 143.18 L489.51 143.1 L489.81 143.02 L490.11 142.94 L490.4 142.86 L490.7 142.78 L491 142.7 L491.3 142.62 L491.6 142.54 L491.89 142.45 L492.19 142.37 L492.49 142.29 L492.79 142.21 L493.09 142.13 L493.38 142.05 L493.68 141.96 L493.98 141.88 L494.28 141.8 L494.58 141.71 L494.87 141.63 L495.17 141.55 L495.47 141.47 L495.77 141.38 L496.07 141.3 L496.36 141.21 L496.66 141.13 L496.96 141.05 L497.26 140.96 L497.56 140.88 L497.85 140.79 L498.15 140.71 L498.45 140.62 L498.75 140.54 L499.05 140.45 L499.34 140.37 L499.64 140.28 L499.94 140.2 L500.24 140.11 L500.54 140.03 L500.83 139.94 L501.13 139.85 L501.43 139.77 L501.73 139.68 L502.03 139.59 L502.32 139.51 L502.62 139.42 L502.92 139.33 L503.22 139.25 L503.52 139.16 L503.81 139.07 L504.11 138.98 L504.41 138.9 L504.71 138.81 L505.01 138.72 L505.3 138.63 L505.6 138.54 L505.9 138.46 L506.2 138.37 L506.5 138.28 L506.79 138.19 L507.09 138.1 L507.39 138.01 L507.69 137.92 L507.99 137.83 L508.28 137.74 L508.58 137.65 L508.88 137.56 L509.18 137.47 L509.48 137.38 L509.77 137.29 L510.07 137.2 L510.37 137.11 L510.67 137.02 L510.97 136.93 L511.26 136.84 L511.56 136.75 L511.86 136.65 L512.16 136.56 L512.46 136.47 L512.75 136.38 L513.05 136.29 L513.35 136.19 L513.65 136.1 L513.95 136.01 L514.24 135.92 L514.54 135.82 L514.84 135.73 L515.14 135.64 L515.44 135.54 L515.73 135.45 L516.03 135.36 L516.33 135.26 L516.63 135.17 L516.93 135.08 L517.22 134.98 L517.52 134.89 L517.82 134.79 L518.12 134.7 L518.42 134.6 L518.71 134.51 L519.01 134.41 L519.31 134.32 L519.61 134.22 L519.91 134.13 L520.2 134.03 L520.5 133.94 L520.8 133.84 L521.1 133.74 L521.4 133.65 L521.69 133.55 L521.99 133.46 L522.29 133.36 L522.59 133.26 L522.89 133.17 L523.18 133.07 L523.48 132.97 L523.78 132.87 L524.08 132.78 L524.38 132.68 L524.67 132.58 L524.97 132.48 L525.27 132.39 L525.57 132.29 L525.87 132.19 L526.16 132.09 L526.46 131.99 L526.76 131.89 L527.06 131.79 L527.36 131.69 L527.65 131.6 L527.95 131.5 L528.25 131.4 L528.55 131.3 L528.85 131.2 L529.14 131.1 L529.44 131 L529.74 130.9 L530.04 130.8 L530.34 130.7 L530.63 130.6 L530.93 130.49 L531.23 130.39 L531.53 130.29 L531.83 130.19 L532.12 130.09 L532.42 129.99 L532.72 129.89 L533.02 129.78 L533.32 129.68 L533.61 129.58 L533.91 129.48 L534.21 129.38 L534.51 129.27 L534.81 129.17 L535.1 129.07 L535.4 128.96 L535.7 128.86 L536 128.76 L536.3 128.65 L536.59 128.55 L536.89 128.45 L537.19 128.34 L537.49 128.24 L537.79 128.14 L538.08 128.03 L538.38 127.93 L538.68 127.82 L538.98 127.72 L539.28 127.61 L539.57 127.51 L539.87 127.4 L540.17 127.3 L540.47 127.19 L540.77 127.09 L541.06 126.98 L541.36 126.87 L541.66 126.77 L541.96 126.66 L542.26 126.56 L542.55 126.45 L542.85 126.34 L543.15 126.24 L543.45 126.13 L543.75 126.02 L544.04 125.92 L544.34 125.81 L544.64 125.7 L544.94 125.59 L545.24 125.49 L545.53 125.38 L545.83 125.27 L546.13 125.16 L546.43 125.05 L546.73 124.94 L547.02 124.84 L547.32 124.73 L547.62 124.62 L547.92 124.51 L548.22 124.4 L548.51 124.29 L548.81 124.18 L549.11 124.07 L549.41 123.96 L549.71 123.85 L550 123.74 L550.3 123.63 L550.6 123.52 L550.9 123.41 L551.2 123.3 L551.49 123.19 L551.79 123.08 L552.09 122.97 L552.39 122.86 L552.69 122.75 L552.98 122.63 L553.28 122.52 L553.58 122.41 L553.88 122.3 L554.18 122.19 L554.47 122.08 L554.77 121.96 L555.07 121.85 L555.37 121.74 L555.67 121.63 L555.96 121.51 L556.26 121.4 L556.56 121.29 L556.86 121.17 L557.16 121.06 L557.45 120.95 L557.75 120.83 L558.05 120.72 L558.35 120.6 L558.65 120.49 L558.94 120.38 L559.24 120.26 L559.54 120.15 L559.84 120.03 L560.14 119.92 L560.43 119.8 L560.73 119.69 L561.03 119.57 L561.33 119.46 L561.63 119.34 L561.92 119.23 L562.22 119.11 L562.52 118.99 L562.82 118.88 L563.12 118.76 L563.41 118.65 L563.71 118.53 L564.01 118.41 L564.31 118.3 L564.61 118.18 L564.9 118.06 L565.2 117.94 L565.5 117.83 L565.8 117.71 L566.1 117.59 L566.39 117.47 L566.69 117.36 L566.99 117.24 L567.29 117.12 L567.59 117 L567.88 116.88 L568.18 116.76 L568.48 116.65 L568.78 116.53 L569.08 116.41 L569.37 116.29 L569.67 116.17 L569.97 116.05 L570.27 115.93 L570.57 115.81 L570.86 115.69 L571.16 115.57 L571.46 115.45 L571.76 115.33 L572.06 115.21 L572.35 115.09 L572.65 114.97 L572.95 114.85 L573.25 114.73 L573.55 114.61 L573.84 114.48 L574.14 114.36 L574.44 114.24 L574.74 114.12 L575.04 114 L575.33 113.88 L575.63 113.75 L575.93 113.63 L576.23 113.51 L576.53 113.39 L576.82 113.26 L577.12 113.14 L577.42 113.02 L577.72 112.9 L578.02 112.77 L578.31 112.65 L578.61 112.53 L578.91 112.4 L579.21 112.28 L579.51 112.15 L579.8 112.03 L580.1 111.91 L580.4 111.78 L580.7 111.66 L581 111.53 L581.29 111.41 L581.59 111.28 L581.89 111.16 L582.19 111.03 L582.49 110.91 L582.78 110.78 L583.08 110.66 L583.38 110.53 L583.68 110.41 L583.98 110.28 L584.27 110.15 L584.57 110.03 L584.87 109.9 L585.17 109.78 L585.47 109.65 L585.76 109.52 L586.06 109.39 L586.36 109.27 L586.66 109.14 L586.96 109.01 L587.25 108.89 L587.55 108.76 L587.85 108.63 L588.15 108.5 L588.45 108.37 L588.74 108.25 L589.04 108.12 L589.34 107.99 L589.64 107.86 L589.94 107.73 L590.23 107.6 L590.53 107.47 L590.83 107.35 L591.13 107.22 L591.43 107.09 L591.72 106.96 L592.02 106.83 L592.32 106.7 L592.62 106.57 L592.92 106.44 L593.21 106.31 L593.51 106.18 L593.81 106.05 L594.11 105.92 L594.41 105.79 L594.7 105.66 L595 105.52 L595.3 105.39 L595.6 105.26 L595.9 105.13 L596.19 105 L596.49 104.87 L596.79 104.74 L597.09 104.6 L597.39 104.47 L597.68 104.34 L597.98 104.21 L598.28 104.07 L598.58 103.94 L598.88 103.81 L599.17 103.68 L599.47 103.54 L599.77 103.41 L600.07 103.28 L600.37 103.14 L600.66 103.01 L600.96 102.88 L601.26 102.74 L601.56 102.61 L601.86 102.47 L602.15 102.34 L602.45 102.21 L602.75 102.07 L603.05 101.94 L603.35 101.8 L603.64 101.67 L603.94 101.53 L604.24 101.4 L604.54 101.26 L604.84 101.13 L605.13 100.99 L605.43 100.85 L605.73 100.72 L606.03 100.58 L606.33 100.45 L606.62 100.31 L606.92 100.17 L607.22 100.04 L607.52 99.9 L607.82 99.76 L608.11 99.63 L608.41 99.49 L608.71 99.35 L609.01 99.21 L609.31 99.08 L609.6 98.94 L609.9 98.8 L610.2 98.66 L610.5 98.53 L610.8 98.39 L611.09 98.25 L611.39 98.11 L611.69 97.97 L611.99 97.83 L612.29 97.7 L612.58 97.56 L612.88 97.42 L613.18 97.28 L613.48 97.14 L613.78 97 L614.07 96.86 L614.37 96.72 L614.67 96.58 L614.97 96.44 L615.27 96.3 L615.56 96.16 L615.86 96.02 L616.16 95.88 L616.46 95.74 L616.76 95.6 L617.05 95.46 L617.35 95.31 L617.65 95.17 L617.95 95.03 L618.25 94.89 L618.54 94.75 L618.84 94.61 L619.14 94.47 L619.44 94.32 L619.74 94.18 L620.03 94.04 L620.33 93.9 L620.63 93.75 L620.93 93.61 L621.23 93.47 L621.52 93.33 L621.82 93.18 L622.12 93.04 L622.42 92.9 L622.72 92.75 L623.01 92.61 L623.31 92.47 L623.61 92.32 L623.91 92.18 L624.21 92.03 L624.5 91.89 L624.8 91.74 L625.1 91.6 L625.4 91.46 L625.7 91.31 L625.99 91.17 L626.29 91.02 L626.59 90.88 L626.89 90.73 L627.19 90.59 L627.48 90.44 L627.78 90.29 L628.08 90.15 L628.38 90 L628.68 89.86 L628.97 89.71 L629.27 89.56 L629.57 89.42 L629.87 89.27 L630.17 89.12 L630.46 88.98 L630.76 88.83 L631.06 88.68 L631.36 88.54 L631.66 88.39 L631.95 88.24 L632.25 88.09 L632.55 87.94 L632.85 87.8 L633.15 87.65 L633.44 87.5 L633.74 87.35 L634.04 87.2 L634.34 87.06 L634.64 86.91 L634.93 86.76 L635.23 86.61 L635.53 86.46 L635.83 86.31 L636.13 86.16 L636.42 86.01 L636.72 85.86 L637.02 85.71 L637.32 85.56 L637.62 85.41 L637.91 85.26 L638.21 85.11 L638.51 84.96 L638.81 84.81 L639.11 84.66 L639.4 84.51 L639.7 84.36 L640 84.21 L640.3 84.06 L640.6 83.9 L640.89 83.75 L641.19 83.6 L641.49 83.45 L641.79 83.3 L642.09 83.15 L642.38 82.99 L642.68 82.84 L642.98 82.69 L643.28 82.54 L643.58 82.38 L643.87 82.23 L644.17 82.08 L644.47 81.93 L644.77 81.77 L645.07 81.62 L645.36 81.47 L645.66 81.31 L645.96 81.16 L646.26 81.01 L646.56 80.85 L646.85 80.7 L647.15 80.54 L647.45 80.39 L647.75 80.23 L648.05 80.08 L648.34 79.93 L648.64 79.77 L648.94 79.62 L649.24 79.46 L649.54 79.31 L649.83 79.15 L650.13 78.99 L650.43 78.84 L650.73 78.68 L651.03 78.53 L651.32 78.37 L651.62 78.22 L651.92 78.06 L652.22 77.9 L652.52 77.75 L652.81 77.59 L653.11 77.43 L653.41 77.28 L653.71 77.12 L654.01 76.96 L654.3 76.8 L654.6 76.65 L654.9 76.49 L655.2 76.33 L655.5 76.17 L655.79 76.02 L656.09 75.86 L656.39 75.7 L656.69 75.54 L656.99 75.38 L657.28 75.23 L657.58 75.07 L657.88 74.91 L658.18 74.75 L658.48 74.59 L658.77 74.43 L659.07 74.27 L659.37 74.11 L659.67 73.95 L659.97 73.79 L660.26 73.63 L660.56 73.47 L660.86 73.31 L661.16 73.15 L661.46 72.99 L661.75 72.83 L662.05 72.67 L662.35 72.51 L662.65 72.35 L662.95 72.19 L663.24 72.03 L663.54 71.87 L663.84 71.71 L664.14 71.54 L664.44 71.38 L664.73 71.22 L665.03 71.06 L665.33 70.9 L665.63 70.74 L665.93 70.57 L666.22 70.41 L666.52 70.25 L666.82 70.09 L667.12 69.92 L667.42 69.76 L667.71 69.6 L668.01 69.43 L668.31 69.27 L668.61 69.11 L668.91 68.94 L669.2 68.78 L669.5 68.62 L669.8 68.45 L670.1 68.29 L670.4 68.13 L670.69 67.96 L670.99 67.8 L671.29 67.63 L671.59 67.47 L671.89 67.3 L672.18 67.14 L672.48 66.97 L672.78 66.81 L673.08 66.64 L673.38 66.48 L673.67 66.31 L673.97 66.15 L674.27 65.98 L674.57 65.81 L674.87 65.65 L675.16 65.48 L675.46 65.32 L675.76 65.15 L676.06 64.98 L676.36 64.82 L676.65 64.65 L676.95 64.48 L677.25 64.32 L677.55 64.15 L677.85 63.98 L678.14 63.82 L678.44 63.65 L678.74 63.48 L679.04 63.31 L679.34 63.14 L679.63 62.98 L679.93 62.81 L680.23 62.64 L680.53 62.47 L680.83 62.3 L681.12 62.13 L681.42 61.97 L681.72 61.8 L682.02 61.63 L682.32 61.46 L682.61 61.29 L682.91 61.12 L683.21 60.95 L683.51 60.78 L683.81 60.61 L684.1 60.44 L684.4 60.27 L684.7 60.1 L685 59.93 L685.3 59.76 L685.59 59.59 L685.89 59.42 L686.19 59.25 L686.49 59.08 L686.79 58.91 L687.08 58.74 L687.38 58.57 L687.68 58.39 L687.98 58.22 L688.28 58.05 L688.57 57.88 L688.87 57.71 L689.17 57.54 L689.47 57.36 L689.77 57.19 L690.06 57.02 L690.36 56.85 L690.66 56.68 L690.96 56.5 L691.26 56.33 L691.55 56.16 L691.85 55.98 L692.15 55.81 L692.45 55.64 L692.75 55.46 L693.04 55.29 L693.34 55.12 L693.64 54.94 L693.94 54.77 L694.24 54.6 L694.53 54.42 L694.83 54.25 L695.13 54.07 L695.43 53.9 L695.73 53.72 L696.02 53.55 L696.32 53.37 L696.62 53.2 L696.92 53.02 L697.22 52.85 L697.51 52.67 L697.81 52.5 L698.11 52.32 L698.41 52.15 L698.71 51.97 L699 51.79 L699.3 51.62 L699.6 51.44 L699.9 51.27 L700.2 51.09 L700.49 50.91 L700.79 50.74 L701.09 50.56 L701.39 50.38 L701.69 50.21 L701.98 50.03 L702.28 49.85 L702.58 49.67 L702.88 49.5 L703.18 49.32 L703.47 49.14 L703.77 48.96 L704.07 48.79 L704.37 48.61 L704.67 48.43 L704.96 48.25 L705.26 48.07 L705.56 47.89 L705.86 47.71 L706.16 47.54 L706.45 47.36 L706.75 47.18 L707.05 47 L707.35 46.82 L707.65 46.64 L707.94 46.46 L708.24 46.28 L708.54 46.1 L708.84 45.92 L709.14 45.74 L709.43 45.56 L709.73 45.38 L710.03 45.2 L710.33 45.02 L710.63 44.84 L710.92 44.66 L711.22 44.48 L711.52 44.3 L711.82 44.11 L712.12 43.93 L712.41 43.75 L712.71 43.57 L713.01 43.39 L713.31 43.21 L713.61 43.03 L713.9 42.84 L714.2 42.66 L714.4 42.54" fill="none" stroke="#ff4050" stroke-width="1.85" stroke-dasharray="1.0 3" stroke-dashoffset="0.5"/>
<path d="M416.5 153.24 L417.1 154.61 L417.69 155.96 L418.29 157.29 L418.88 158.6 L419.48 159.89 L420.08 161.15 L420.67 162.4 L421.27 163.63 L421.86 164.84 L422.46 166.03 L423.06 167.2 L423.65 168.35 L424.25 169.49 L424.85 170.61 L425.44 171.71 L426.04 172.79 L426.63 173.86 L427.23 174.91 L427.83 175.94 L428.42 176.96 L429.02 177.96 L429.61 178.94 L430.21 179.91 L430.81 180.87 L431.4 181.81 L432 182.73 L432.59 183.65 L433.19 184.54 L433.79 185.43 L434.38 186.29 L434.98 187.15 L435.58 187.99 L436.17 188.82 L436.77 189.64 L437.36 190.44 L437.96 191.23 L438.56 192.01 L439.15 192.78 L439.75 193.53 L440.34 194.28 L440.94 195.01 L441.54 195.73 L442.13 196.44 L442.73 197.13 L443.32 197.82 L443.92 198.5 L444.52 199.16 L445.11 199.82 L445.71 200.46 L446.3 201.1 L446.9 201.72 L447.5 202.34 L448.09 202.94 L448.69 203.54 L449.29 204.13 L449.88 204.7 L450.48 205.27 L451.07 205.83 L451.67 206.38 L452.27 206.93 L452.86 207.46 L453.46 207.99 L454.05 208.5 L454.65 209.01 L455.25 209.52 L455.84 210.01 L456.44 210.5 L457.03 210.97 L457.63 211.44 L458.23 211.91 L458.82 212.36 L459.42 212.81 L460.02 213.26 L460.61 213.69 L461.21 214.12 L461.8 214.54 L462.4 214.96 L463 215.37 L463.59 215.77 L464.19 216.17 L464.78 216.56 L465.38 216.94 L465.98 217.32 L466.57 217.69 L467.17 218.06 L467.76 218.42 L468.36 218.77 L468.96 219.12 L469.55 219.47 L470.15 219.81 L470.74 220.14 L471.34 220.47 L471.94 220.79 L472.53 221.11 L473.13 221.42 L473.73 221.73 L474.32 222.03 L474.92 222.33 L475.51 222.63 L476.11 222.92 L476.71 223.2 L477.3 223.48 L477.9 223.76 L478.49 224.03 L479.09 224.3 L479.69 224.56 L480.28 224.82 L480.88 225.07 L481.47 225.33 L482.07 225.57 L482.67 225.82 L483.26 226.06 L483.86 226.29 L484.46 226.52 L485.05 226.75 L485.65 226.98 L486.24 227.2 L486.84 227.42 L487.44 227.63 L488.03 227.84 L488.63 228.05 L489.22 228.26 L489.82 228.46 L490.42 228.66 L491.01 228.85 L491.61 229.05 L492.2 229.24 L492.8 229.42 L493.4 229.61 L493.99 229.79 L494.59 229.96 L495.18 230.14 L495.78 230.31 L496.38 230.48 L496.97 230.65 L497.57 230.81 L498.17 230.97 L498.76 231.13 L499.36 231.29 L499.95 231.45 L500.55 231.6 L501.15 231.75 L501.74 231.89 L502.34 232.04 L502.93 232.18 L503.53 232.32 L504.13 232.46 L504.72 232.6 L505.32 232.73 L505.91 232.86 L506.51 232.99 L507.11 233.12 L507.7 233.25 L508.3 233.37 L508.9 233.49 L509.49 233.61 L510.09 233.73 L510.68 233.85 L511.28 233.96 L511.88 234.08 L512.47 234.19 L513.07 234.3 L513.66 234.4 L514.26 234.51 L514.86 234.61 L515.45 234.72 L516.05 234.82 L516.64 234.92 L517.24 235.01 L517.84 235.11 L518.43 235.21 L519.03 235.3 L519.62 235.39 L520.22 235.48 L520.82 235.57 L521.41 235.66 L522.01 235.74 L522.61 235.83 L523.2 235.91 L523.8 236 L524.39 236.08 L524.99 236.16 L525.59 236.24 L526.18 236.31 L526.78 236.39 L527.37 236.46 L527.97 236.54 L528.57 236.61 L529.16 236.68 L529.76 236.75 L530.35 236.82 L530.95 236.89 L531.55 236.96 L532.14 237.02 L532.74 237.09 L533.34 237.15 L533.93 237.22 L534.53 237.28 L535.12 237.34 L535.72 237.4 L536.32 237.46 L536.91 237.52 L537.51 237.57 L538.1 237.63 L538.7 237.69 L539.3 237.74 L539.89 237.79 L540.49 237.85 L541.08 237.9 L541.68 237.95 L542.28 238 L542.87 238.05 L543.47 238.1 L544.06 238.15 L544.66 238.2 L545.26 238.24 L545.85 238.29 L546.45 238.34 L547.05 238.38 L547.64 238.42 L548.24 238.47 L548.83 238.51 L549.43 238.55 L550.03 238.59 L550.62 238.63 L551.22 238.67 L551.81 238.71 L552.41 238.75 L553.01 238.79 L553.6 238.83 L554.2 238.86 L554.79 238.9 L555.39 238.94 L555.99 238.97 L556.58 239.01 L557.18 239.04 L557.78 239.07 L558.37 239.11 L558.97 239.14 L559.56 239.17 L560.16 239.2 L560.76 239.23 L561.35 239.27 L561.95 239.3 L562.54 239.33 L563.14 239.35 L563.74 239.38 L564.33 239.41 L564.93 239.44 L565.52 239.47 L566.12 239.49 L566.72 239.52 L567.31 239.55 L567.91 239.57 L568.51 239.6 L569.1 239.62 L569.7 239.65 L570.29 239.67 L570.89 239.7 L571.49 239.72 L572.08 239.74 L572.68 239.76 L573.27 239.79 L573.87 239.81 L574.47 239.83 L575.06 239.85 L575.66 239.87 L576.25 239.89 L576.85 239.91 L577.45 239.93 L578.04 239.95 L578.64 239.97 L579.23 239.99 L579.83 240.01 L580.43 240.03 L581.02 240.05 L581.62 240.07 L582.22 240.08 L582.81 240.1 L583.41 240.12 L584 240.14 L584.6 240.15 L585.2 240.17 L585.79 240.18 L586.39 240.2 L586.98 240.22 L587.58 240.23 L588.18 240.25 L588.77 240.26 L589.37 240.28 L589.96 240.29 L590.56 240.3 L591.16 240.32 L591.75 240.33 L592.35 240.35 L592.95 240.36 L593.54 240.37 L594.14 240.38 L594.73 240.4 L595.33 240.41 L595.93 240.42 L596.52 240.43 L597.12 240.45 L597.71 240.46 L598.31 240.47 L598.91 240.48 L599.5 240.49 L600.1 240.5 L600.69 240.51 L601.29 240.52 L601.89 240.54 L602.48 240.55 L603.08 240.56 L603.67 240.57 L604.27 240.58 L604.87 240.59 L605.46 240.6 L606.06 240.6 L606.66 240.61 L607.25 240.62 L607.85 240.63 L608.44 240.64 L609.04 240.65 L609.64 240.66 L610.23 240.67 L610.83 240.67 L611.42 240.68 L612.02 240.69 L612.62 240.7 L613.21 240.71 L613.81 240.71 L614.4 240.72 L615 240.73 L615.6 240.74 L616.19 240.74 L616.79 240.75 L617.39 240.76 L617.98 240.76 L618.58 240.77 L619.17 240.78 L619.77 240.79 L620.37 240.79 L620.96 240.8 L621.56 240.8 L622.15 240.81 L622.75 240.82 L623.35 240.82 L623.94 240.83 L624.54 240.83 L625.13 240.84 L625.73 240.85 L626.33 240.85 L626.92 240.86 L627.52 240.86 L628.11 240.87 L628.71 240.87 L629.31 240.88 L629.9 240.88 L630.5 240.89 L631.1 240.89 L631.69 240.9 L632.29 240.9 L632.88 240.91 L633.48 240.91 L634.08 240.92 L634.67 240.92 L635.27 240.92 L635.86 240.93 L636.46 240.93 L637.06 240.94 L637.65 240.94 L638.25 240.94 L638.84 240.95 L639.44 240.95 L640.04 240.96 L640.63 240.96 L641.23 240.96 L641.83 240.97 L642.42 240.97 L643.02 240.98 L643.61 240.98 L644.21 240.98 L644.81 240.99 L645.4 240.99 L646 240.99 L646.59 241 L647.19 241 L647.79 241 L648.38 241 L648.98 241.01 L649.57 241.01 L650.17 241.01 L650.77 241.02 L651.36 241.02 L651.96 241.02 L652.55 241.03 L653.15 241.03 L653.75 241.03 L654.34 241.03 L654.94 241.04 L655.54 241.04 L656.13 241.04 L656.73 241.04 L657.32 241.05 L657.92 241.05 L658.52 241.05 L659.11 241.05 L659.71 241.06 L660.3 241.06 L660.9 241.06 L661.5 241.06 L662.09 241.06 L662.69 241.07 L663.28 241.07 L663.88 241.07 L664.48 241.07 L665.07 241.07 L665.67 241.08 L666.27 241.08 L666.86 241.08 L667.46 241.08 L668.05 241.08 L668.65 241.09 L669.25 241.09 L669.84 241.09 L670.44 241.09 L671.03 241.09 L671.63 241.09 L672.23 241.1 L672.82 241.1 L673.42 241.1 L674.01 241.1 L674.61 241.1 L675.21 241.1 L675.8 241.11 L676.4 241.11 L676.99 241.11 L677.59 241.11 L678.19 241.11 L678.78 241.11 L679.38 241.11 L679.98 241.12 L680.57 241.12 L681.17 241.12 L681.76 241.12 L682.36 241.12 L682.96 241.12 L683.55 241.12 L684.15 241.12 L684.74 241.13 L685.34 241.13 L685.94 241.13 L686.53 241.13 L687.13 241.13 L687.72 241.13 L688.32 241.13 L688.92 241.13 L689.51 241.13 L690.11 241.13 L690.71 241.14 L691.3 241.14 L691.9 241.14 L692.49 241.14 L693.09 241.14 L693.69 241.14 L694.28 241.14 L694.88 241.14 L695.47 241.14 L696.07 241.14 L696.67 241.15 L697.26 241.15 L697.86 241.15 L698.45 241.15 L699.05 241.15 L699.65 241.15 L700.24 241.15 L700.84 241.15 L701.43 241.15 L702.03 241.15 L702.63 241.15 L703.22 241.15 L703.82 241.15 L704.42 241.16 L705.01 241.16 L705.61 241.16 L706.2 241.16 L706.8 241.16 L707.4 241.16 L707.99 241.16 L708.59 241.16 L709.18 241.16 L709.78 241.16 L710.38 241.16 L710.97 241.16 L711.57 241.16 L712.16 241.16 L712.76 241.16 L713.36 241.16 L713.95 241.17 L714.4 241.17" fill="none" stroke="#0000ff" stroke-width="2.1" stroke-linejoin="round" stroke-linecap="butt"/>
</g>
<rect x="425.8" y="22.7" width="128.8" height="31.3" fill="#fff" stroke="#858585" stroke-width="1"/>
<g fill="#ff6a74"><rect x="430.73" y="28.9" width="1.15" height="2"/><rect x="434.73" y="28.9" width="1.15" height="2"/><rect x="438.73" y="28.9" width="1.15" height="2"/><rect x="442.73" y="28.9" width="1.15" height="2"/><rect x="446.73" y="28.9" width="1.15" height="2"/><rect x="450.73" y="28.9" width="1.15" height="2"/><rect x="454.73" y="28.9" width="1.15" height="2"/></g>
<path d="M431.6 44.3H458.6" stroke="#0000ff" stroke-width="2.1"/>
<g font-size="9.0" fill="#1a1a1a"><text transform="translate(462 33.1) scale(1 1.0)">Without Control</text><text transform="translate(462 45.5) scale(1 1.0)">Optimal u<tspan font-size="7.2" dy="4.23">1</tspan><tspan dx="0.2" dy="-4.23">, u</tspan><tspan font-size="7.2" dy="4.23">3</tspan><tspan dx="0.2" dy="-4.23">, and u</tspan><tspan font-size="7.2" dy="4.23">4</tspan></text></g>
<text transform="translate(416.4 9.5) scale(1 1.0)" font-size="9.0" fill="#1a1a1a">x 10<tspan font-size="6.48" dy="-5.58">5</tspan></text>
<text transform="translate(395 127.1) rotate(-90) scale(1 1.0)" text-anchor="middle" font-size="9.0" fill="#1a1a1a">E(t)</text>
<text transform="translate(565.7 262) scale(1 1.0)" text-anchor="middle" font-size="9.0" fill="#1a1a1a">Time (Days)</text>
<text class="cap" x="558.4" y="291.8" text-anchor="middle" font-family='"Liberation Serif", serif' font-size="15" fill="#1a1a1a">(b)</text>
<path d="M25.9 558.6v-3M25.9 334v3M85.4 558.6v-3M85.4 334v3M144.9 558.6v-3M144.9 334v3M204.4 558.6v-3M204.4 334v3M263.9 558.6v-3M263.9 334v3M323.4 558.6v-3M323.4 334v3M25.9 558.6h3M323.4 558.6h-3M25.9 536.14h3M323.4 536.14h-3M25.9 513.68h3M323.4 513.68h-3M25.9 491.22h3M323.4 491.22h-3M25.9 468.76h3M323.4 468.76h-3M25.9 446.3h3M323.4 446.3h-3M25.9 423.84h3M323.4 423.84h-3M25.9 401.38h3M323.4 401.38h-3M25.9 378.92h3M323.4 378.92h-3M25.9 356.46h3M323.4 356.46h-3M25.9 334h3M323.4 334h-3" stroke="#858585" stroke-width="1" fill="none"/>
<rect x="25.9" y="334" width="297.5" height="224.6" fill="none" stroke="#858585" stroke-width="1"/>
<g font-size="9.0" fill="#1a1a1a"><text transform="translate(25.9 569.7) scale(1 1.05)" text-anchor="middle">0</text><text transform="translate(85.4 569.7) scale(1 1.05)" text-anchor="middle">20</text><text transform="translate(144.9 569.7) scale(1 1.05)" text-anchor="middle">40</text><text transform="translate(204.4 569.7) scale(1 1.05)" text-anchor="middle">60</text><text transform="translate(263.9 569.7) scale(1 1.05)" text-anchor="middle">80</text><text transform="translate(323.4 569.7) scale(1 1.05)" text-anchor="middle">100</text><text transform="translate(23 562.17) scale(1 1.05)" text-anchor="end">0</text><text transform="translate(23 539.71) scale(1 1.05)" text-anchor="end">1</text><text transform="translate(23 517.25) scale(1 1.05)" text-anchor="end">2</text><text transform="translate(23 494.79) scale(1 1.05)" text-anchor="end">3</text><text transform="translate(23 472.32) scale(1 1.05)" text-anchor="end">4</text><text transform="translate(23 449.87) scale(1 1.05)" text-anchor="end">5</text><text transform="translate(23 427.41) scale(1 1.05)" text-anchor="end">6</text><text transform="translate(23 404.94) scale(1 1.05)" text-anchor="end">7</text><text transform="translate(23 382.49) scale(1 1.05)" text-anchor="end">8</text><text transform="translate(23 360.03) scale(1 1.05)" text-anchor="end">9</text><text transform="translate(23 337.56) scale(1 1.05)" text-anchor="end">10</text></g>
<clipPath id="cC"><rect x="25.6" y="333.7" width="298.1" height="224.95"/></clipPath>
<g clip-path="url(#cC)">
<path d="M25.9 355.45 L26.2 365.09 L26.5 374.26 L26.79 382.98 L27.09 391.28 L27.39 399.17 L27.69 406.67 L27.98 413.81 L28.28 420.61 L28.58 427.07 L28.88 433.21 L29.17 439.06 L29.47 444.62 L29.77 449.9 L30.07 454.94 L30.36 459.72 L30.66 464.27 L30.96 468.6 L31.26 472.72 L31.55 476.63 L31.85 480.36 L32.15 483.9 L32.45 487.27 L32.74 490.48 L33.04 493.53 L33.34 496.43 L33.64 499.19 L33.94 501.81 L34.23 504.31 L34.53 506.68 L34.83 508.94 L35.13 511.09 L35.42 513.13 L35.72 515.07 L36.02 516.92 L36.32 518.68 L36.61 520.35 L36.91 521.94 L37.21 523.45 L37.51 524.89 L37.8 526.26 L38.1 527.56 L38.4 528.8 L38.7 529.97 L38.99 531.09 L39.29 532.16 L39.59 533.17 L39.89 534.13 L40.18 535.05 L40.48 535.92 L40.78 536.75 L41.08 537.54 L41.38 538.29 L41.67 539 L41.97 539.68 L42.27 540.32 L42.57 540.93 L42.86 541.52 L43.16 542.07 L43.46 542.6 L43.76 543.1 L44.05 543.57 L44.35 544.03 L44.65 544.46 L44.95 544.87 L45.24 545.26 L45.54 545.63 L45.84 545.98 L46.14 546.31 L46.43 546.63 L46.73 546.93 L47.03 547.22 L47.33 547.5 L47.62 547.75 L47.92 548 L48.22 548.24 L48.52 548.46 L48.82 548.67 L49.11 548.87 L49.41 549.06 L49.71 549.25 L50.01 549.42 L50.3 549.58 L50.6 549.74 L50.9 549.89 L51.2 550.03 L51.49 550.16 L51.79 550.29 L52.09 550.41 L52.39 550.53 L52.68 550.63 L52.98 550.74 L53.28 550.84 L53.58 550.93 L53.87 551.02 L54.17 551.1 L54.47 551.18 L54.77 551.26 L55.06 551.33 L55.36 551.4 L55.66 551.46 L55.96 551.52 L56.26 551.58 L56.55 551.64 L56.85 551.69 L57.15 551.74 L57.45 551.78 L57.74 551.83 L58.04 551.87 L58.34 551.91 L58.64 551.95 L58.93 551.98 L59.23 552.02 L59.53 552.05 L59.83 552.08 L60.12 552.11 L60.42 552.13 L60.72 552.16 L61.02 552.18 L61.31 552.2 L61.61 552.23 L61.91 552.25 L62.21 552.26 L62.5 552.28 L62.8 552.3 L63.1 552.31 L63.4 552.33 L63.7 552.34 L63.99 552.36 L64.29 552.37 L64.59 552.38 L64.89 552.39 L65.18 552.4 L65.48 552.41 L65.78 552.42 L66.08 552.42 L66.37 552.43 L66.67 552.44 L66.97 552.44 L67.27 552.45 L67.56 552.45 L67.86 552.46 L68.16 552.46 L68.46 552.47 L68.75 552.47 L69.05 552.47 L69.35 552.48 L69.65 552.48 L69.94 552.48 L70.24 552.48 L70.54 552.48 L70.84 552.49 L71.14 552.49 L71.43 552.49 L71.73 552.49 L72.03 552.49 L72.33 552.49 L72.62 552.49 L72.92 552.49 L73.22 552.49 L73.52 552.48 L73.81 552.48 L74.11 552.48 L74.41 552.48 L74.71 552.48 L75 552.48 L75.3 552.48 L75.6 552.47 L75.9 552.47 L76.19 552.47 L76.49 552.47 L76.79 552.46 L77.09 552.46 L77.38 552.46 L77.68 552.46 L77.98 552.45 L78.28 552.45 L78.58 552.45 L78.87 552.44 L79.17 552.44 L79.47 552.44 L79.77 552.43 L80.06 552.43 L80.36 552.43 L80.66 552.42 L80.96 552.42 L81.25 552.42 L81.55 552.41 L81.85 552.41 L82.15 552.41 L82.44 552.4 L82.74 552.4 L83.04 552.39 L83.34 552.39 L83.63 552.39 L83.93 552.38 L84.23 552.38 L84.53 552.37 L84.82 552.37 L85.12 552.37 L85.42 552.36 L85.72 552.36 L86.02 552.35 L86.31 552.35 L86.61 552.34 L86.91 552.34 L87.21 552.34 L87.5 552.33 L87.8 552.33 L88.1 552.32 L88.4 552.32 L88.69 552.31 L88.99 552.31 L89.29 552.3 L89.59 552.3 L89.88 552.29 L90.18 552.29 L90.48 552.29 L90.78 552.28 L91.07 552.28 L91.37 552.27 L91.67 552.27 L91.97 552.26 L92.26 552.26 L92.56 552.25 L92.86 552.25 L93.16 552.24 L93.46 552.24 L93.75 552.23 L94.05 552.23 L94.35 552.22 L94.65 552.22 L94.94 552.21 L95.24 552.21 L95.54 552.2 L95.84 552.2 L96.13 552.19 L96.43 552.19 L96.73 552.18 L97.03 552.18 L97.32 552.17 L97.62 552.17 L97.92 552.16 L98.22 552.16 L98.51 552.15 L98.81 552.15 L99.11 552.14 L99.41 552.14 L99.7 552.13 L100 552.13 L100.3 552.12 L100.6 552.12 L100.89 552.11 L101.19 552.11 L101.49 552.1 L101.79 552.1 L102.09 552.09 L102.38 552.09 L102.68 552.08 L102.98 552.08 L103.28 552.07 L103.57 552.07 L103.87 552.06 L104.17 552.06 L104.47 552.05 L104.76 552.05 L105.06 552.04 L105.36 552.04 L105.66 552.03 L105.95 552.03 L106.25 552.02 L106.55 552.01 L106.85 552.01 L107.14 552 L107.44 552 L107.74 551.99 L108.04 551.99 L108.33 551.98 L108.63 551.98 L108.93 551.97 L109.23 551.97 L109.53 551.96 L109.82 551.96 L110.12 551.95 L110.42 551.94 L110.72 551.94 L111.01 551.93 L111.31 551.93 L111.61 551.92 L111.91 551.92 L112.2 551.91 L112.5 551.91 L112.8 551.9 L113.1 551.9 L113.39 551.89 L113.69 551.88 L113.99 551.88 L114.29 551.87 L114.58 551.87 L114.88 551.86 L115.18 551.86 L115.48 551.85 L115.77 551.85 L116.07 551.84 L116.37 551.83 L116.67 551.83 L116.97 551.82 L117.26 551.82 L117.56 551.81 L117.86 551.81 L118.16 551.8 L118.45 551.8 L118.75 551.79 L119.05 551.78 L119.35 551.78 L119.64 551.77 L119.94 551.77 L120.24 551.76 L120.54 551.76 L120.83 551.75 L121.13 551.74 L121.43 551.74 L121.73 551.73 L122.02 551.73 L122.32 551.72 L122.62 551.72 L122.92 551.71 L123.21 551.7 L123.51 551.7 L123.81 551.69 L124.11 551.69 L124.41 551.68 L124.7 551.68 L125 551.67 L125.3 551.66 L125.6 551.66 L125.89 551.65 L126.19 551.65 L126.49 551.64 L126.79 551.63 L127.08 551.63 L127.38 551.62 L127.68 551.62 L127.98 551.61 L128.27 551.61 L128.57 551.6 L128.87 551.59 L129.17 551.59 L129.46 551.58 L129.76 551.58 L130.06 551.57 L130.36 551.56 L130.65 551.56 L130.95 551.55 L131.25 551.55 L131.55 551.54 L131.85 551.53 L132.14 551.53 L132.44 551.52 L132.74 551.52 L133.04 551.51 L133.33 551.5 L133.63 551.5 L133.93 551.49 L134.23 551.49 L134.52 551.48 L134.82 551.47 L135.12 551.47 L135.42 551.46 L135.71 551.46 L136.01 551.45 L136.31 551.44 L136.61 551.44 L136.9 551.43 L137.2 551.43 L137.5 551.42 L137.8 551.41 L138.09 551.41 L138.39 551.4 L138.69 551.39 L138.99 551.39 L139.29 551.38 L139.58 551.38 L139.88 551.37 L140.18 551.36 L140.48 551.36 L140.77 551.35 L141.07 551.35 L141.37 551.34 L141.67 551.33 L141.96 551.33 L142.26 551.32 L142.56 551.31 L142.86 551.31 L143.15 551.3 L143.45 551.3 L143.75 551.29 L144.05 551.28 L144.34 551.28 L144.64 551.27 L144.94 551.26 L145.24 551.26 L145.53 551.25 L145.83 551.24 L146.13 551.24 L146.43 551.23 L146.73 551.23 L147.02 551.22 L147.32 551.21 L147.62 551.21 L147.92 551.2 L148.21 551.19 L148.51 551.19 L148.81 551.18 L149.11 551.17 L149.4 551.17 L149.7 551.16 L150 551.16 L150.3 551.15 L150.59 551.14 L150.89 551.14 L151.19 551.13 L151.49 551.12 L151.78 551.12 L152.08 551.11 L152.38 551.1 L152.68 551.1 L152.97 551.09 L153.27 551.08 L153.57 551.08 L153.87 551.07 L154.17 551.06 L154.46 551.06 L154.76 551.05 L155.06 551.04 L155.36 551.04 L155.65 551.03 L155.95 551.02 L156.25 551.02 L156.55 551.01 L156.84 551 L157.14 551 L157.44 550.99 L157.74 550.98 L158.03 550.98 L158.33 550.97 L158.63 550.97 L158.93 550.96 L159.22 550.95 L159.52 550.94 L159.82 550.94 L160.12 550.93 L160.41 550.92 L160.71 550.92 L161.01 550.91 L161.31 550.9 L161.61 550.9 L161.9 550.89 L162.2 550.88 L162.5 550.88 L162.8 550.87 L163.09 550.86 L163.39 550.86 L163.69 550.85 L163.99 550.84 L164.28 550.84 L164.58 550.83 L164.88 550.82 L165.18 550.82 L165.47 550.81 L165.77 550.8 L166.07 550.8 L166.37 550.79 L166.66 550.78 L166.96 550.78 L167.26 550.77 L167.56 550.76 L167.85 550.75 L168.15 550.75 L168.45 550.74 L168.75 550.73 L169.05 550.73 L169.34 550.72 L169.64 550.71 L169.94 550.71 L170.24 550.7 L170.53 550.69 L170.83 550.69 L171.13 550.68 L171.43 550.67 L171.72 550.66 L172.02 550.66 L172.32 550.65 L172.62 550.64 L172.91 550.64 L173.21 550.63 L173.51 550.62 L173.81 550.62 L174.1 550.61 L174.4 550.6 L174.7 550.59 L175 550.59 L175.29 550.58 L175.59 550.57 L175.89 550.57 L176.19 550.56 L176.49 550.55 L176.78 550.54 L177.08 550.54 L177.38 550.53 L177.68 550.52 L177.97 550.52 L178.27 550.51 L178.57 550.5 L178.87 550.49 L179.16 550.49 L179.46 550.48 L179.76 550.47 L180.06 550.47 L180.35 550.46 L180.65 550.45 L180.95 550.44 L181.25 550.44 L181.54 550.43 L181.84 550.42 L182.14 550.42 L182.44 550.41 L182.73 550.4 L183.03 550.39 L183.33 550.39 L183.63 550.38 L183.93 550.37 L184.22 550.36 L184.52 550.36 L184.82 550.35 L185.12 550.34 L185.41 550.33 L185.71 550.33 L186.01 550.32 L186.31 550.31 L186.6 550.31 L186.9 550.3 L187.2 550.29 L187.5 550.28 L187.79 550.28 L188.09 550.27 L188.39 550.26 L188.69 550.25 L188.98 550.25 L189.28 550.24 L189.58 550.23 L189.88 550.22 L190.17 550.22 L190.47 550.21 L190.77 550.2 L191.07 550.19 L191.37 550.19 L191.66 550.18 L191.96 550.17 L192.26 550.16 L192.56 550.16 L192.85 550.15 L193.15 550.14 L193.45 550.13 L193.75 550.13 L194.04 550.12 L194.34 550.11 L194.64 550.1 L194.94 550.1 L195.23 550.09 L195.53 550.08 L195.83 550.07 L196.13 550.07 L196.42 550.06 L196.72 550.05 L197.02 550.04 L197.32 550.04 L197.61 550.03 L197.91 550.02 L198.21 550.01 L198.51 550 L198.81 550 L199.1 549.99 L199.4 549.98 L199.7 549.97 L200 549.97 L200.29 549.96 L200.59 549.95 L200.89 549.94 L201.19 549.93 L201.48 549.93 L201.78 549.92 L202.08 549.91 L202.38 549.9 L202.67 549.9 L202.97 549.89 L203.27 549.88 L203.57 549.87 L203.86 549.86 L204.16 549.86 L204.46 549.85 L204.76 549.84 L205.05 549.83 L205.35 549.83 L205.65 549.82 L205.95 549.81 L206.25 549.8 L206.54 549.79 L206.84 549.79 L207.14 549.78 L207.44 549.77 L207.73 549.76 L208.03 549.75 L208.33 549.75 L208.63 549.74 L208.92 549.73 L209.22 549.72 L209.52 549.71 L209.82 549.71 L210.11 549.7 L210.41 549.69 L210.71 549.68 L211.01 549.67 L211.3 549.67 L211.6 549.66 L211.9 549.65 L212.2 549.64 L212.49 549.63 L212.79 549.63 L213.09 549.62 L213.39 549.61 L213.69 549.6 L213.98 549.59 L214.28 549.59 L214.58 549.58 L214.88 549.57 L215.17 549.56 L215.47 549.55 L215.77 549.55 L216.07 549.54 L216.36 549.53 L216.66 549.52 L216.96 549.51 L217.26 549.51 L217.55 549.5 L217.85 549.49 L218.15 549.48 L218.45 549.47 L218.74 549.46 L219.04 549.46 L219.34 549.45 L219.64 549.44 L219.93 549.43 L220.23 549.42 L220.53 549.41 L220.83 549.41 L221.13 549.4 L221.42 549.39 L221.72 549.38 L222.02 549.37 L222.32 549.37 L222.61 549.36 L222.91 549.35 L223.21 549.34 L223.51 549.33 L223.8 549.32 L224.1 549.32 L224.4 549.31 L224.7 549.3 L224.99 549.29 L225.29 549.28 L225.59 549.27 L225.89 549.26 L226.18 549.26 L226.48 549.25 L226.78 549.24 L227.08 549.23 L227.37 549.22 L227.67 549.21 L227.97 549.21 L228.27 549.2 L228.57 549.19 L228.86 549.18 L229.16 549.17 L229.46 549.16 L229.76 549.15 L230.05 549.15 L230.35 549.14 L230.65 549.13 L230.95 549.12 L231.24 549.11 L231.54 549.1 L231.84 549.1 L232.14 549.09 L232.43 549.08 L232.73 549.07 L233.03 549.06 L233.33 549.05 L233.62 549.04 L233.92 549.03 L234.22 549.03 L234.52 549.02 L234.81 549.01 L235.11 549 L235.41 548.99 L235.71 548.98 L236.01 548.97 L236.3 548.97 L236.6 548.96 L236.9 548.95 L237.2 548.94 L237.49 548.93 L237.79 548.92 L238.09 548.91 L238.39 548.9 L238.68 548.9 L238.98 548.89 L239.28 548.88 L239.58 548.87 L239.87 548.86 L240.17 548.85 L240.47 548.84 L240.77 548.83 L241.06 548.83 L241.36 548.82 L241.66 548.81 L241.96 548.8 L242.25 548.79 L242.55 548.78 L242.85 548.77 L243.15 548.76 L243.45 548.75 L243.74 548.75 L244.04 548.74 L244.34 548.73 L244.64 548.72 L244.93 548.71 L245.23 548.7 L245.53 548.69 L245.83 548.68 L246.12 548.67 L246.42 548.67 L246.72 548.66 L247.02 548.65 L247.31 548.64 L247.61 548.63 L247.91 548.62 L248.21 548.61 L248.5 548.6 L248.8 548.59 L249.1 548.58 L249.4 548.57 L249.69 548.57 L249.99 548.56 L250.29 548.55 L250.59 548.54 L250.88 548.53 L251.18 548.52 L251.48 548.51 L251.78 548.5 L252.08 548.49 L252.37 548.48 L252.67 548.47 L252.97 548.47 L253.27 548.46 L253.56 548.45 L253.86 548.44 L254.16 548.43 L254.46 548.42 L254.75 548.41 L255.05 548.4 L255.35 548.39 L255.65 548.38 L255.94 548.37 L256.24 548.36 L256.54 548.35 L256.84 548.35 L257.13 548.34 L257.43 548.33 L257.73 548.32 L258.03 548.31 L258.32 548.3 L258.62 548.29 L258.92 548.28 L259.22 548.27 L259.52 548.26 L259.81 548.25 L260.11 548.24 L260.41 548.23 L260.71 548.22 L261 548.21 L261.3 548.21 L261.6 548.2 L261.9 548.19 L262.19 548.18 L262.49 548.17 L262.79 548.16 L263.09 548.15 L263.38 548.14 L263.68 548.13 L263.98 548.12 L264.28 548.11 L264.57 548.1 L264.87 548.09 L265.17 548.08 L265.47 548.07 L265.76 548.06 L266.06 548.05 L266.36 548.04 L266.66 548.03 L266.96 548.03 L267.25 548.02 L267.55 548.01 L267.85 548 L268.15 547.99 L268.44 547.98 L268.74 547.97 L269.04 547.96 L269.34 547.95 L269.63 547.94 L269.93 547.93 L270.23 547.92 L270.53 547.91 L270.82 547.9 L271.12 547.89 L271.42 547.88 L271.72 547.87 L272.01 547.86 L272.31 547.85 L272.61 547.84 L272.91 547.83 L273.2 547.82 L273.5 547.81 L273.8 547.8 L274.1 547.79 L274.4 547.78 L274.69 547.77 L274.99 547.76 L275.29 547.75 L275.59 547.74 L275.88 547.73 L276.18 547.72 L276.48 547.71 L276.78 547.7 L277.07 547.69 L277.37 547.68 L277.67 547.67 L277.97 547.66 L278.26 547.65 L278.56 547.64 L278.86 547.63 L279.16 547.62 L279.45 547.61 L279.75 547.6 L280.05 547.59 L280.35 547.58 L280.64 547.57 L280.94 547.56 L281.24 547.55 L281.54 547.54 L281.84 547.53 L282.13 547.52 L282.43 547.51 L282.73 547.5 L283.03 547.49 L283.32 547.48 L283.62 547.47 L283.92 547.46 L284.22 547.45 L284.51 547.44 L284.81 547.43 L285.11 547.42 L285.41 547.41 L285.7 547.4 L286 547.39 L286.3 547.38 L286.6 547.37 L286.89 547.36 L287.19 547.35 L287.49 547.34 L287.79 547.33 L288.08 547.32 L288.38 547.31 L288.68 547.3 L288.98 547.29 L289.28 547.28 L289.57 547.27 L289.87 547.26 L290.17 547.25 L290.47 547.24 L290.76 547.23 L291.06 547.22 L291.36 547.21 L291.66 547.2 L291.95 547.19 L292.25 547.18 L292.55 547.17 L292.85 547.16 L293.14 547.15 L293.44 547.14 L293.74 547.13 L294.04 547.12 L294.33 547.1 L294.63 547.09 L294.93 547.08 L295.23 547.07 L295.52 547.06 L295.82 547.05 L296.12 547.04 L296.42 547.03 L296.72 547.02 L297.01 547.01 L297.31 547 L297.61 546.99 L297.91 546.98 L298.2 546.97 L298.5 546.96 L298.8 546.95 L299.1 546.94 L299.39 546.93 L299.69 546.92 L299.99 546.9 L300.29 546.89 L300.58 546.88 L300.88 546.87 L301.18 546.86 L301.48 546.85 L301.77 546.84 L302.07 546.83 L302.37 546.82 L302.67 546.81 L302.96 546.8 L303.26 546.79 L303.56 546.78 L303.86 546.77 L304.16 546.76 L304.45 546.74 L304.75 546.73 L305.05 546.72 L305.35 546.71 L305.64 546.7 L305.94 546.69 L306.24 546.68 L306.54 546.67 L306.83 546.66 L307.13 546.65 L307.43 546.64 L307.73 546.63 L308.02 546.61 L308.32 546.6 L308.62 546.59 L308.92 546.58 L309.21 546.57 L309.51 546.56 L309.81 546.55 L310.11 546.54 L310.4 546.53 L310.7 546.52 L311 546.51 L311.3 546.49 L311.6 546.48 L311.89 546.47 L312.19 546.46 L312.49 546.45 L312.79 546.44 L313.08 546.43 L313.38 546.42 L313.68 546.41 L313.98 546.39 L314.27 546.38 L314.57 546.37 L314.87 546.36 L315.17 546.35 L315.46 546.34 L315.76 546.33 L316.06 546.32 L316.36 546.31 L316.65 546.29 L316.95 546.28 L317.25 546.27 L317.55 546.26 L317.84 546.25 L318.14 546.24 L318.44 546.23 L318.74 546.22 L319.04 546.2 L319.33 546.19 L319.63 546.18 L319.93 546.17 L320.23 546.16 L320.52 546.15 L320.82 546.14 L321.12 546.13 L321.42 546.11 L321.71 546.1 L322.01 546.09 L322.31 546.08 L322.61 546.07 L322.9 546.06 L323.2 546.05 L323.4 546.04" fill="none" stroke="#ff4050" stroke-width="1.85" stroke-dasharray="1.0 3" stroke-dashoffset="0.5"/>
<path d="M25.9 356.46 L26.5 407.04 L27.09 444.9 L27.69 473.23 L28.28 494.44 L28.88 510.32 L29.47 522.22 L30.07 531.13 L30.66 537.8 L31.26 542.81 L31.85 546.56 L32.45 549.38 L33.04 551.49 L33.64 553.08 L34.23 554.28 L34.83 555.19 L35.42 555.87 L36.02 556.39 L36.62 556.78 L37.21 557.08 L37.81 557.32 L38.4 557.49 L39 557.63 L39.59 557.74 L40.19 557.83 L40.78 557.9 L41.38 557.95 L41.97 558 L42.57 558.04 L43.16 558.07 L43.76 558.1 L44.35 558.12 L44.95 558.15 L45.54 558.17 L46.14 558.18 L46.74 558.2 L47.33 558.21 L47.93 558.23 L48.52 558.24 L49.12 558.25 L49.71 558.27 L50.31 558.28 L50.9 558.29 L51.5 558.3 L52.09 558.31 L52.69 558.31 L53.28 558.32 L53.88 558.33 L54.47 558.34 L55.07 558.35 L55.66 558.35 L56.26 558.36 L56.86 558.37 L57.45 558.37 L58.05 558.38 L58.64 558.38 L59.24 558.39 L59.83 558.4 L60.43 558.4 L61.02 558.41 L61.62 558.41 L62.21 558.41 L62.81 558.42 L63.4 558.42 L64 558.43 L64.59 558.43 L65.19 558.43 L65.78 558.44 L66.38 558.44 L66.98 558.44 L67.57 558.45 L68.17 558.45 L68.76 558.45 L69.36 558.46 L69.95 558.46 L70.55 558.46 L71.14 558.46 L71.74 558.47 L72.33 558.47 L72.93 558.47 L73.52 558.47 L74.12 558.48 L74.71 558.48 L75.31 558.48 L75.91 558.48 L76.5 558.48 L77.1 558.49 L77.69 558.49 L78.29 558.49 L78.88 558.49 L79.48 558.49 L80.07 558.5 L80.67 558.5 L81.26 558.5 L81.86 558.5 L82.45 558.5 L83.05 558.5 L83.64 558.5 L84.24 558.51 L84.83 558.51 L85.43 558.51 L86.03 558.51 L86.62 558.51 L87.22 558.51 L87.81 558.51 L88.41 558.51 L89 558.52 L89.6 558.52 L90.19 558.52 L90.79 558.52 L91.38 558.52 L91.98 558.52 L92.57 558.52 L93.17 558.52 L93.76 558.52 L94.36 558.52 L94.95 558.53 L95.55 558.53 L96.15 558.53 L96.74 558.53 L97.34 558.53 L97.93 558.53 L98.53 558.53 L99.12 558.53 L99.72 558.53 L100.31 558.53 L100.91 558.53 L101.5 558.53 L102.1 558.54 L102.69 558.54 L103.29 558.54 L103.88 558.54 L104.48 558.54 L105.07 558.54 L105.67 558.54 L106.27 558.54 L106.86 558.54 L107.46 558.54 L108.05 558.54 L108.65 558.54 L109.24 558.54 L109.84 558.54 L110.43 558.54 L111.03 558.55 L111.62 558.55 L112.22 558.55 L112.81 558.55 L113.41 558.55 L114 558.55 L114.6 558.55 L115.19 558.55 L115.79 558.55 L116.39 558.55 L116.98 558.55 L117.58 558.55 L118.17 558.55 L118.77 558.55 L119.36 558.55 L119.96 558.55 L120.55 558.55 L121.15 558.55 L121.74 558.55 L122.34 558.56 L122.93 558.56 L123.53 558.56 L124.12 558.56 L124.72 558.56 L125.31 558.56 L125.91 558.56 L126.51 558.56 L127.1 558.56 L127.7 558.56 L128.29 558.56 L128.89 558.56 L129.48 558.56 L130.08 558.56 L130.67 558.56 L131.27 558.56 L131.86 558.56 L132.46 558.56 L133.05 558.56 L133.65 558.56 L134.24 558.56 L134.84 558.56 L135.43 558.56 L136.03 558.56 L136.63 558.56 L137.22 558.57 L137.82 558.57 L138.41 558.57 L139.01 558.57 L139.6 558.57 L140.2 558.57 L140.79 558.57 L141.39 558.57 L141.98 558.57 L142.58 558.57 L143.17 558.57 L143.77 558.57 L144.36 558.57 L144.96 558.57 L145.55 558.57 L146.15 558.57 L146.75 558.57 L147.34 558.57 L147.94 558.57 L148.53 558.57 L149.13 558.57 L149.72 558.57 L150.32 558.57 L150.91 558.57 L151.51 558.57 L152.1 558.57 L152.7 558.57 L153.29 558.57 L153.89 558.57 L154.48 558.57 L155.08 558.57 L155.67 558.57 L156.27 558.57 L156.87 558.58 L157.46 558.58 L158.06 558.58 L158.65 558.58 L159.25 558.58 L159.84 558.58 L160.44 558.58 L161.03 558.58 L161.63 558.58 L162.22 558.58 L162.82 558.58 L163.41 558.58 L164.01 558.58 L164.6 558.58 L165.2 558.58 L165.79 558.58 L166.39 558.58 L166.99 558.58 L167.58 558.58 L168.18 558.58 L168.77 558.58 L169.37 558.58 L169.96 558.58 L170.56 558.58 L171.15 558.58 L171.75 558.58 L172.34 558.58 L172.94 558.58 L173.53 558.58 L174.13 558.58 L174.72 558.58 L175.32 558.58 L175.92 558.58 L176.51 558.58 L177.11 558.58 L177.7 558.58 L178.3 558.58 L178.89 558.58 L179.49 558.58 L180.08 558.58 L180.68 558.58 L181.27 558.58 L181.87 558.58 L182.46 558.58 L183.06 558.58 L183.65 558.58 L184.25 558.58 L184.84 558.58 L185.44 558.58 L186.04 558.58 L186.63 558.58 L187.23 558.59 L187.82 558.59 L188.42 558.59 L189.01 558.59 L189.61 558.59 L190.2 558.59 L190.8 558.59 L191.39 558.59 L191.99 558.59 L192.58 558.59 L193.18 558.59 L193.77 558.59 L194.37 558.59 L194.96 558.59 L195.56 558.59 L196.16 558.59 L196.75 558.59 L197.35 558.59 L197.94 558.59 L198.54 558.59 L199.13 558.59 L199.73 558.59 L200.32 558.59 L200.92 558.59 L201.51 558.59 L202.11 558.59 L202.7 558.59 L203.3 558.59 L203.89 558.59 L204.49 558.59 L205.08 558.59 L205.68 558.59 L206.28 558.59 L206.87 558.59 L207.47 558.59 L208.06 558.59 L208.66 558.59 L209.25 558.59 L209.85 558.59 L210.44 558.59 L211.04 558.59 L211.63 558.59 L212.23 558.59 L212.82 558.59 L213.42 558.59 L214.01 558.59 L214.61 558.59 L215.2 558.59 L215.8 558.59 L216.4 558.59 L216.99 558.59 L217.59 558.59 L218.18 558.59 L218.78 558.59 L219.37 558.59 L219.97 558.59 L220.56 558.59 L221.16 558.59 L221.75 558.59 L222.35 558.59 L222.94 558.59 L223.54 558.59 L224.13 558.59 L224.73 558.59 L225.32 558.59 L225.92 558.59 L226.52 558.59 L227.11 558.59 L227.71 558.59 L228.3 558.59 L228.9 558.59 L229.49 558.59 L230.09 558.59 L230.68 558.59 L231.28 558.59 L231.87 558.59 L232.47 558.59 L233.06 558.59 L233.66 558.59 L234.25 558.59 L234.85 558.59 L235.44 558.59 L236.04 558.59 L236.64 558.59 L237.23 558.59 L237.83 558.59 L238.42 558.59 L239.02 558.59 L239.61 558.59 L240.21 558.59 L240.8 558.59 L241.4 558.59 L241.99 558.59 L242.59 558.59 L243.18 558.59 L243.78 558.59 L244.37 558.59 L244.97 558.59 L245.56 558.59 L246.16 558.59 L246.76 558.59 L247.35 558.59 L247.95 558.59 L248.54 558.59 L249.14 558.59 L249.73 558.59 L250.33 558.59 L250.92 558.59 L251.52 558.59 L252.11 558.59 L252.71 558.6 L253.3 558.6 L253.9 558.6 L254.49 558.6 L255.09 558.6 L255.68 558.6 L256.28 558.6 L256.88 558.6 L257.47 558.6 L258.07 558.6 L258.66 558.6 L259.26 558.6 L259.85 558.6 L260.45 558.6 L261.04 558.6 L261.64 558.6 L262.23 558.6 L262.83 558.6 L263.42 558.6 L264.02 558.6 L264.61 558.6 L265.21 558.6 L265.8 558.6 L266.4 558.6 L267 558.6 L267.59 558.6 L268.19 558.6 L268.78 558.6 L269.38 558.6 L269.97 558.6 L270.57 558.6 L271.16 558.6 L271.76 558.6 L272.35 558.6 L272.95 558.6 L273.54 558.6 L274.14 558.6 L274.73 558.6 L275.33 558.6 L275.93 558.6 L276.52 558.6 L277.12 558.6 L277.71 558.6 L278.31 558.6 L278.9 558.6 L279.5 558.6 L280.09 558.6 L280.69 558.6 L281.28 558.6 L281.88 558.6 L282.47 558.6 L283.07 558.6 L283.66 558.6 L284.26 558.6 L284.85 558.6 L285.45 558.6 L286.05 558.6 L286.64 558.6 L287.24 558.6 L287.83 558.6 L288.43 558.6 L289.02 558.6 L289.62 558.6 L290.21 558.6 L290.81 558.6 L291.4 558.6 L292 558.6 L292.59 558.6 L293.19 558.6 L293.78 558.6 L294.38 558.6 L294.97 558.6 L295.57 558.6 L296.17 558.6 L296.76 558.6 L297.36 558.6 L297.95 558.6 L298.55 558.6 L299.14 558.6 L299.74 558.6 L300.33 558.6 L300.93 558.6 L301.52 558.6 L302.12 558.6 L302.71 558.6 L303.31 558.6 L303.9 558.6 L304.5 558.6 L305.09 558.6 L305.69 558.6 L306.29 558.6 L306.88 558.6 L307.48 558.6 L308.07 558.6 L308.67 558.6 L309.26 558.6 L309.86 558.6 L310.45 558.6 L311.05 558.6 L311.64 558.6 L312.24 558.6 L312.83 558.6 L313.43 558.6 L314.02 558.6 L314.62 558.6 L315.21 558.6 L315.81 558.6 L316.41 558.6 L317 558.6 L317.6 558.6 L318.19 558.6 L318.79 558.6 L319.38 558.6 L319.98 558.6 L320.57 558.6 L321.17 558.6 L321.76 558.6 L322.36 558.6 L322.95 558.6 L323.4 558.6" fill="none" stroke="#0000ff" stroke-width="2.1" stroke-linejoin="round" stroke-linecap="butt"/>
</g>
<rect x="191.4" y="338.7" width="127.7" height="27.7" fill="#fff" stroke="#858585" stroke-width="1"/>
<g fill="#ff6a74"><rect x="197.03" y="343.7" width="1.15" height="2"/><rect x="201.03" y="343.7" width="1.15" height="2"/><rect x="205.03" y="343.7" width="1.15" height="2"/><rect x="209.03" y="343.7" width="1.15" height="2"/><rect x="213.03" y="343.7" width="1.15" height="2"/><rect x="217.03" y="343.7" width="1.15" height="2"/><rect x="221.03" y="343.7" width="1.15" height="2"/></g>
<path d="M197.6 357.9H224.4" stroke="#0000ff" stroke-width="2.1"/>
<g font-size="9.0" fill="#1a1a1a"><text transform="translate(227.5 348.7) scale(1 1.0)">Without Control</text><text transform="translate(227.5 359.8) scale(1 1.0)">Optimal u<tspan font-size="7.2" dy="4.23">1</tspan><tspan dx="0.2" dy="-4.23">, u</tspan><tspan font-size="7.2" dy="4.23">3</tspan><tspan dx="0.2" dy="-4.23">, and u</tspan><tspan font-size="7.2" dy="4.23">4</tspan></text></g>
<text transform="translate(25.9 330.3) scale(1 1.0)" font-size="9.0" fill="#1a1a1a">x 10<tspan font-size="6.48" dy="-5.58">4</tspan></text>
<text transform="translate(6.8 446.3) rotate(-90) scale(1 1.0)" text-anchor="middle" font-size="9.0" fill="#1a1a1a">A(t)</text>
<text transform="translate(174.8 580) scale(1 1.0)" text-anchor="middle" font-size="9.0" fill="#1a1a1a">Time (Days)</text>
<text class="cap" x="167.5" y="602.6" text-anchor="middle" font-family='"Liberation Serif", serif' font-size="15" fill="#1a1a1a">(c)</text>
<path d="M420.9 558.6v-3M420.9 334.3v3M480.4 558.6v-3M480.4 334.3v3M539.9 558.6v-3M539.9 334.3v3M599.4 558.6v-3M599.4 334.3v3M658.9 558.6v-3M658.9 334.3v3M718.4 558.6v-3M718.4 334.3v3M420.9 558.6h3M718.4 558.6h-3M420.9 530.56h3M718.4 530.56h-3M420.9 502.53h3M718.4 502.53h-3M420.9 474.49h3M718.4 474.49h-3M420.9 446.45h3M718.4 446.45h-3M420.9 418.41h3M718.4 418.41h-3M420.9 390.38h3M718.4 390.38h-3M420.9 362.34h3M718.4 362.34h-3M420.9 334.3h3M718.4 334.3h-3" stroke="#858585" stroke-width="1" fill="none"/>
<rect x="420.9" y="334.3" width="297.5" height="224.3" fill="none" stroke="#858585" stroke-width="1"/>
<g font-size="9.0" fill="#1a1a1a"><text transform="translate(420.9 569.7) scale(1 1.05)" text-anchor="middle">0</text><text transform="translate(480.4 569.7) scale(1 1.05)" text-anchor="middle">20</text><text transform="translate(539.9 569.7) scale(1 1.05)" text-anchor="middle">40</text><text transform="translate(599.4 569.7) scale(1 1.05)" text-anchor="middle">60</text><text transform="translate(658.9 569.7) scale(1 1.05)" text-anchor="middle">80</text><text transform="translate(718.4 569.7) scale(1 1.05)" text-anchor="middle">100</text><text transform="translate(418 562.17) scale(1 1.05)" text-anchor="end">0</text><text transform="translate(418 534.13) scale(1 1.05)" text-anchor="end">1</text><text transform="translate(418 506.09) scale(1 1.05)" text-anchor="end">2</text><text transform="translate(418 478.05) scale(1 1.05)" text-anchor="end">3</text><text transform="translate(418 450.02) scale(1 1.05)" text-anchor="end">4</text><text transform="translate(418 421.98) scale(1 1.05)" text-anchor="end">5</text><text transform="translate(418 393.94) scale(1 1.05)" text-anchor="end">6</text><text transform="translate(418 365.9) scale(1 1.05)" text-anchor="end">7</text><text transform="translate(418 337.87) scale(1 1.05)" text-anchor="end">8</text></g>
<clipPath id="cD"><rect x="420.6" y="334" width="298.1" height="224.65"/></clipPath>
<g clip-path="url(#cD)">
<path d="M420.9 476.52 L421.2 476.42 L421.5 476.33 L421.79 476.23 L422.09 476.13 L422.39 476.03 L422.69 475.93 L422.98 475.83 L423.28 475.73 L423.58 475.63 L423.88 475.53 L424.17 475.43 L424.47 475.33 L424.77 475.24 L425.07 475.14 L425.36 475.04 L425.66 474.94 L425.96 474.84 L426.26 474.74 L426.55 474.64 L426.85 474.54 L427.15 474.44 L427.45 474.34 L427.74 474.24 L428.04 474.14 L428.34 474.04 L428.64 473.94 L428.94 473.85 L429.23 473.75 L429.53 473.65 L429.83 473.55 L430.13 473.45 L430.42 473.35 L430.72 473.25 L431.02 473.15 L431.32 473.05 L431.61 472.95 L431.91 472.85 L432.21 472.75 L432.51 472.65 L432.8 472.55 L433.1 472.45 L433.4 472.35 L433.7 472.25 L433.99 472.15 L434.29 472.05 L434.59 471.95 L434.89 471.85 L435.18 471.75 L435.48 471.65 L435.78 471.55 L436.08 471.45 L436.38 471.35 L436.67 471.25 L436.97 471.15 L437.27 471.05 L437.57 470.95 L437.86 470.85 L438.16 470.75 L438.46 470.65 L438.76 470.55 L439.05 470.45 L439.35 470.35 L439.65 470.25 L439.95 470.15 L440.24 470.05 L440.54 469.95 L440.84 469.85 L441.14 469.75 L441.43 469.65 L441.73 469.55 L442.03 469.45 L442.33 469.35 L442.62 469.25 L442.92 469.15 L443.22 469.05 L443.52 468.95 L443.82 468.85 L444.11 468.75 L444.41 468.65 L444.71 468.55 L445.01 468.45 L445.3 468.35 L445.6 468.25 L445.9 468.15 L446.2 468.05 L446.49 467.94 L446.79 467.84 L447.09 467.74 L447.39 467.64 L447.68 467.54 L447.98 467.44 L448.28 467.34 L448.58 467.24 L448.87 467.14 L449.17 467.04 L449.47 466.94 L449.77 466.83 L450.06 466.73 L450.36 466.63 L450.66 466.53 L450.96 466.43 L451.26 466.33 L451.55 466.23 L451.85 466.13 L452.15 466.03 L452.45 465.92 L452.74 465.82 L453.04 465.72 L453.34 465.62 L453.64 465.52 L453.93 465.42 L454.23 465.32 L454.53 465.21 L454.83 465.11 L455.12 465.01 L455.42 464.91 L455.72 464.81 L456.02 464.71 L456.31 464.6 L456.61 464.5 L456.91 464.4 L457.21 464.3 L457.5 464.2 L457.8 464.1 L458.1 463.99 L458.4 463.89 L458.7 463.79 L458.99 463.69 L459.29 463.58 L459.59 463.48 L459.89 463.38 L460.18 463.28 L460.48 463.18 L460.78 463.07 L461.08 462.97 L461.37 462.87 L461.67 462.77 L461.97 462.66 L462.27 462.56 L462.56 462.46 L462.86 462.36 L463.16 462.25 L463.46 462.15 L463.75 462.05 L464.05 461.95 L464.35 461.84 L464.65 461.74 L464.94 461.64 L465.24 461.53 L465.54 461.43 L465.84 461.33 L466.14 461.23 L466.43 461.12 L466.73 461.02 L467.03 460.92 L467.33 460.81 L467.62 460.71 L467.92 460.61 L468.22 460.5 L468.52 460.4 L468.81 460.3 L469.11 460.19 L469.41 460.09 L469.71 459.99 L470 459.88 L470.3 459.78 L470.6 459.68 L470.9 459.57 L471.19 459.47 L471.49 459.36 L471.79 459.26 L472.09 459.16 L472.38 459.05 L472.68 458.95 L472.98 458.85 L473.28 458.74 L473.58 458.64 L473.87 458.53 L474.17 458.43 L474.47 458.32 L474.77 458.22 L475.06 458.12 L475.36 458.01 L475.66 457.91 L475.96 457.8 L476.25 457.7 L476.55 457.59 L476.85 457.49 L477.15 457.38 L477.44 457.28 L477.74 457.17 L478.04 457.07 L478.34 456.96 L478.63 456.86 L478.93 456.75 L479.23 456.65 L479.53 456.54 L479.82 456.44 L480.12 456.33 L480.42 456.23 L480.72 456.12 L481.02 456.02 L481.31 455.91 L481.61 455.81 L481.91 455.7 L482.21 455.6 L482.5 455.49 L482.8 455.39 L483.1 455.28 L483.4 455.17 L483.69 455.07 L483.99 454.96 L484.29 454.86 L484.59 454.75 L484.88 454.64 L485.18 454.54 L485.48 454.43 L485.78 454.33 L486.07 454.22 L486.37 454.11 L486.67 454.01 L486.97 453.9 L487.26 453.79 L487.56 453.69 L487.86 453.58 L488.16 453.47 L488.46 453.37 L488.75 453.26 L489.05 453.15 L489.35 453.05 L489.65 452.94 L489.94 452.83 L490.24 452.73 L490.54 452.62 L490.84 452.51 L491.13 452.41 L491.43 452.3 L491.73 452.19 L492.03 452.08 L492.32 451.98 L492.62 451.87 L492.92 451.76 L493.22 451.65 L493.51 451.55 L493.81 451.44 L494.11 451.33 L494.41 451.22 L494.7 451.11 L495 451.01 L495.3 450.9 L495.6 450.79 L495.89 450.68 L496.19 450.57 L496.49 450.47 L496.79 450.36 L497.09 450.25 L497.38 450.14 L497.68 450.03 L497.98 449.92 L498.28 449.81 L498.57 449.71 L498.87 449.6 L499.17 449.49 L499.47 449.38 L499.76 449.27 L500.06 449.16 L500.36 449.05 L500.66 448.94 L500.95 448.83 L501.25 448.72 L501.55 448.62 L501.85 448.51 L502.14 448.4 L502.44 448.29 L502.74 448.18 L503.04 448.07 L503.33 447.96 L503.63 447.85 L503.93 447.74 L504.23 447.63 L504.53 447.52 L504.82 447.41 L505.12 447.3 L505.42 447.19 L505.72 447.08 L506.01 446.97 L506.31 446.86 L506.61 446.75 L506.91 446.64 L507.2 446.52 L507.5 446.41 L507.8 446.3 L508.1 446.19 L508.39 446.08 L508.69 445.97 L508.99 445.86 L509.29 445.75 L509.58 445.64 L509.88 445.53 L510.18 445.41 L510.48 445.3 L510.77 445.19 L511.07 445.08 L511.37 444.97 L511.67 444.86 L511.97 444.74 L512.26 444.63 L512.56 444.52 L512.86 444.41 L513.16 444.3 L513.45 444.18 L513.75 444.07 L514.05 443.96 L514.35 443.85 L514.64 443.74 L514.94 443.62 L515.24 443.51 L515.54 443.4 L515.83 443.28 L516.13 443.17 L516.43 443.06 L516.73 442.95 L517.02 442.83 L517.32 442.72 L517.62 442.61 L517.92 442.49 L518.21 442.38 L518.51 442.27 L518.81 442.15 L519.11 442.04 L519.41 441.93 L519.7 441.81 L520 441.7 L520.3 441.58 L520.6 441.47 L520.89 441.36 L521.19 441.24 L521.49 441.13 L521.79 441.01 L522.08 440.9 L522.38 440.78 L522.68 440.67 L522.98 440.56 L523.27 440.44 L523.57 440.33 L523.87 440.21 L524.17 440.1 L524.46 439.98 L524.76 439.87 L525.06 439.75 L525.36 439.64 L525.65 439.52 L525.95 439.41 L526.25 439.29 L526.55 439.17 L526.85 439.06 L527.14 438.94 L527.44 438.83 L527.74 438.71 L528.04 438.59 L528.33 438.48 L528.63 438.36 L528.93 438.25 L529.23 438.13 L529.52 438.01 L529.82 437.9 L530.12 437.78 L530.42 437.66 L530.71 437.55 L531.01 437.43 L531.31 437.31 L531.61 437.2 L531.9 437.08 L532.2 436.96 L532.5 436.84 L532.8 436.73 L533.09 436.61 L533.39 436.49 L533.69 436.37 L533.99 436.26 L534.29 436.14 L534.58 436.02 L534.88 435.9 L535.18 435.79 L535.48 435.67 L535.77 435.55 L536.07 435.43 L536.37 435.31 L536.67 435.19 L536.96 435.08 L537.26 434.96 L537.56 434.84 L537.86 434.72 L538.15 434.6 L538.45 434.48 L538.75 434.36 L539.05 434.24 L539.34 434.12 L539.64 434 L539.94 433.88 L540.24 433.76 L540.53 433.64 L540.83 433.53 L541.13 433.41 L541.43 433.29 L541.73 433.17 L542.02 433.04 L542.32 432.92 L542.62 432.8 L542.92 432.68 L543.21 432.56 L543.51 432.44 L543.81 432.32 L544.11 432.2 L544.4 432.08 L544.7 431.96 L545 431.84 L545.3 431.72 L545.59 431.6 L545.89 431.47 L546.19 431.35 L546.49 431.23 L546.78 431.11 L547.08 430.99 L547.38 430.87 L547.68 430.74 L547.97 430.62 L548.27 430.5 L548.57 430.38 L548.87 430.26 L549.17 430.13 L549.46 430.01 L549.76 429.89 L550.06 429.77 L550.36 429.64 L550.65 429.52 L550.95 429.4 L551.25 429.27 L551.55 429.15 L551.84 429.03 L552.14 428.9 L552.44 428.78 L552.74 428.66 L553.03 428.53 L553.33 428.41 L553.63 428.28 L553.93 428.16 L554.22 428.04 L554.52 427.91 L554.82 427.79 L555.12 427.66 L555.41 427.54 L555.71 427.41 L556.01 427.29 L556.31 427.16 L556.61 427.04 L556.9 426.91 L557.2 426.79 L557.5 426.66 L557.8 426.54 L558.09 426.41 L558.39 426.29 L558.69 426.16 L558.99 426.04 L559.28 425.91 L559.58 425.78 L559.88 425.66 L560.18 425.53 L560.47 425.41 L560.77 425.28 L561.07 425.15 L561.37 425.03 L561.66 424.9 L561.96 424.77 L562.26 424.65 L562.56 424.52 L562.85 424.39 L563.15 424.26 L563.45 424.14 L563.75 424.01 L564.05 423.88 L564.34 423.75 L564.64 423.63 L564.94 423.5 L565.24 423.37 L565.53 423.24 L565.83 423.11 L566.13 422.99 L566.43 422.86 L566.72 422.73 L567.02 422.6 L567.32 422.47 L567.62 422.34 L567.91 422.21 L568.21 422.08 L568.51 421.95 L568.81 421.83 L569.1 421.7 L569.4 421.57 L569.7 421.44 L570 421.31 L570.29 421.18 L570.59 421.05 L570.89 420.92 L571.19 420.79 L571.49 420.66 L571.78 420.53 L572.08 420.39 L572.38 420.26 L572.68 420.13 L572.97 420 L573.27 419.87 L573.57 419.74 L573.87 419.61 L574.16 419.48 L574.46 419.35 L574.76 419.21 L575.06 419.08 L575.35 418.95 L575.65 418.82 L575.95 418.69 L576.25 418.55 L576.54 418.42 L576.84 418.29 L577.14 418.16 L577.44 418.02 L577.73 417.89 L578.03 417.76 L578.33 417.63 L578.63 417.49 L578.93 417.36 L579.22 417.23 L579.52 417.09 L579.82 416.96 L580.12 416.83 L580.41 416.69 L580.71 416.56 L581.01 416.42 L581.31 416.29 L581.6 416.16 L581.9 416.02 L582.2 415.89 L582.5 415.75 L582.79 415.62 L583.09 415.48 L583.39 415.35 L583.69 415.21 L583.98 415.08 L584.28 414.94 L584.58 414.81 L584.88 414.67 L585.17 414.53 L585.47 414.4 L585.77 414.26 L586.07 414.13 L586.37 413.99 L586.66 413.85 L586.96 413.72 L587.26 413.58 L587.56 413.44 L587.85 413.31 L588.15 413.17 L588.45 413.03 L588.75 412.89 L589.04 412.76 L589.34 412.62 L589.64 412.48 L589.94 412.34 L590.23 412.21 L590.53 412.07 L590.83 411.93 L591.13 411.79 L591.42 411.65 L591.72 411.52 L592.02 411.38 L592.32 411.24 L592.61 411.1 L592.91 410.96 L593.21 410.82 L593.51 410.68 L593.81 410.54 L594.1 410.4 L594.4 410.26 L594.7 410.12 L595 409.98 L595.29 409.84 L595.59 409.7 L595.89 409.56 L596.19 409.42 L596.48 409.28 L596.78 409.14 L597.08 409 L597.38 408.86 L597.67 408.72 L597.97 408.58 L598.27 408.44 L598.57 408.29 L598.86 408.15 L599.16 408.01 L599.46 407.87 L599.76 407.73 L600.05 407.58 L600.35 407.44 L600.65 407.3 L600.95 407.16 L601.25 407.01 L601.54 406.87 L601.84 406.73 L602.14 406.59 L602.44 406.44 L602.73 406.3 L603.03 406.16 L603.33 406.01 L603.63 405.87 L603.92 405.72 L604.22 405.58 L604.52 405.44 L604.82 405.29 L605.11 405.15 L605.41 405 L605.71 404.86 L606.01 404.71 L606.3 404.57 L606.6 404.42 L606.9 404.28 L607.2 404.13 L607.49 403.99 L607.79 403.84 L608.09 403.7 L608.39 403.55 L608.69 403.4 L608.98 403.26 L609.28 403.11 L609.58 402.96 L609.88 402.82 L610.17 402.67 L610.47 402.52 L610.77 402.38 L611.07 402.23 L611.36 402.08 L611.66 401.94 L611.96 401.79 L612.26 401.64 L612.55 401.49 L612.85 401.34 L613.15 401.2 L613.45 401.05 L613.74 400.9 L614.04 400.75 L614.34 400.6 L614.64 400.45 L614.93 400.3 L615.23 400.15 L615.53 400.01 L615.83 399.86 L616.13 399.71 L616.42 399.56 L616.72 399.41 L617.02 399.26 L617.32 399.11 L617.61 398.96 L617.91 398.81 L618.21 398.65 L618.51 398.5 L618.8 398.35 L619.1 398.2 L619.4 398.05 L619.7 397.9 L619.99 397.75 L620.29 397.6 L620.59 397.44 L620.89 397.29 L621.18 397.14 L621.48 396.99 L621.78 396.84 L622.08 396.68 L622.37 396.53 L622.67 396.38 L622.97 396.23 L623.27 396.07 L623.57 395.92 L623.86 395.77 L624.16 395.61 L624.46 395.46 L624.76 395.3 L625.05 395.15 L625.35 395 L625.65 394.84 L625.95 394.69 L626.24 394.53 L626.54 394.38 L626.84 394.22 L627.14 394.07 L627.43 393.91 L627.73 393.76 L628.03 393.6 L628.33 393.45 L628.62 393.29 L628.92 393.13 L629.22 392.98 L629.52 392.82 L629.81 392.67 L630.11 392.51 L630.41 392.35 L630.71 392.2 L631.01 392.04 L631.3 391.88 L631.6 391.72 L631.9 391.57 L632.2 391.41 L632.49 391.25 L632.79 391.09 L633.09 390.94 L633.39 390.78 L633.68 390.62 L633.98 390.46 L634.28 390.3 L634.58 390.14 L634.87 389.98 L635.17 389.82 L635.47 389.66 L635.77 389.51 L636.06 389.35 L636.36 389.19 L636.66 389.03 L636.96 388.87 L637.25 388.71 L637.55 388.54 L637.85 388.38 L638.15 388.22 L638.45 388.06 L638.74 387.9 L639.04 387.74 L639.34 387.58 L639.64 387.42 L639.93 387.26 L640.23 387.09 L640.53 386.93 L640.83 386.77 L641.12 386.61 L641.42 386.44 L641.72 386.28 L642.02 386.12 L642.31 385.96 L642.61 385.79 L642.91 385.63 L643.21 385.47 L643.5 385.3 L643.8 385.14 L644.1 384.97 L644.4 384.81 L644.69 384.65 L644.99 384.48 L645.29 384.32 L645.59 384.15 L645.88 383.99 L646.18 383.82 L646.48 383.66 L646.78 383.49 L647.08 383.33 L647.37 383.16 L647.67 382.99 L647.97 382.83 L648.27 382.66 L648.56 382.49 L648.86 382.33 L649.16 382.16 L649.46 381.99 L649.75 381.83 L650.05 381.66 L650.35 381.49 L650.65 381.33 L650.94 381.16 L651.24 380.99 L651.54 380.82 L651.84 380.65 L652.13 380.48 L652.43 380.32 L652.73 380.15 L653.03 379.98 L653.32 379.81 L653.62 379.64 L653.92 379.47 L654.22 379.3 L654.52 379.13 L654.81 378.96 L655.11 378.79 L655.41 378.62 L655.71 378.45 L656 378.28 L656.3 378.11 L656.6 377.94 L656.9 377.77 L657.19 377.6 L657.49 377.42 L657.79 377.25 L658.09 377.08 L658.38 376.91 L658.68 376.74 L658.98 376.56 L659.28 376.39 L659.57 376.22 L659.87 376.05 L660.17 375.87 L660.47 375.7 L660.76 375.53 L661.06 375.35 L661.36 375.18 L661.66 375 L661.96 374.83 L662.25 374.66 L662.55 374.48 L662.85 374.31 L663.15 374.13 L663.44 373.96 L663.74 373.78 L664.04 373.61 L664.34 373.43 L664.63 373.26 L664.93 373.08 L665.23 372.9 L665.53 372.73 L665.82 372.55 L666.12 372.37 L666.42 372.2 L666.72 372.02 L667.01 371.84 L667.31 371.67 L667.61 371.49 L667.91 371.31 L668.2 371.13 L668.5 370.96 L668.8 370.78 L669.1 370.6 L669.4 370.42 L669.69 370.24 L669.99 370.06 L670.29 369.88 L670.59 369.7 L670.88 369.52 L671.18 369.35 L671.48 369.17 L671.78 368.99 L672.07 368.81 L672.37 368.63 L672.67 368.44 L672.97 368.26 L673.26 368.08 L673.56 367.9 L673.86 367.72 L674.16 367.54 L674.45 367.36 L674.75 367.18 L675.05 366.99 L675.35 366.81 L675.64 366.63 L675.94 366.45 L676.24 366.26 L676.54 366.08 L676.84 365.9 L677.13 365.71 L677.43 365.53 L677.73 365.35 L678.03 365.16 L678.32 364.98 L678.62 364.8 L678.92 364.61 L679.22 364.43 L679.51 364.24 L679.81 364.06 L680.11 363.87 L680.41 363.69 L680.7 363.5 L681 363.32 L681.3 363.13 L681.6 362.94 L681.89 362.76 L682.19 362.57 L682.49 362.38 L682.79 362.2 L683.08 362.01 L683.38 361.82 L683.68 361.64 L683.98 361.45 L684.28 361.26 L684.57 361.07 L684.87 360.88 L685.17 360.7 L685.47 360.51 L685.76 360.32 L686.06 360.13 L686.36 359.94 L686.66 359.75 L686.95 359.56 L687.25 359.37 L687.55 359.18 L687.85 358.99 L688.14 358.8 L688.44 358.61 L688.74 358.42 L689.04 358.23 L689.33 358.04 L689.63 357.85 L689.93 357.66 L690.23 357.46 L690.52 357.27 L690.82 357.08 L691.12 356.89 L691.42 356.7 L691.72 356.5 L692.01 356.31 L692.31 356.12 L692.61 355.92 L692.91 355.73 L693.2 355.54 L693.5 355.34 L693.8 355.15 L694.1 354.96 L694.39 354.76 L694.69 354.57 L694.99 354.37 L695.29 354.18 L695.58 353.98 L695.88 353.79 L696.18 353.59 L696.48 353.4 L696.77 353.2 L697.07 353 L697.37 352.81 L697.67 352.61 L697.96 352.41 L698.26 352.22 L698.56 352.02 L698.86 351.82 L699.16 351.63 L699.45 351.43 L699.75 351.23 L700.05 351.03 L700.35 350.83 L700.64 350.63 L700.94 350.44 L701.24 350.24 L701.54 350.04 L701.83 349.84 L702.13 349.64 L702.43 349.44 L702.73 349.24 L703.02 349.04 L703.32 348.84 L703.62 348.64 L703.92 348.44 L704.21 348.24 L704.51 348.04 L704.81 347.83 L705.11 347.63 L705.4 347.43 L705.7 347.23 L706 347.03 L706.3 346.82 L706.6 346.62 L706.89 346.42 L707.19 346.22 L707.49 346.01 L707.79 345.81 L708.08 345.61 L708.38 345.4 L708.68 345.2 L708.98 344.99 L709.27 344.79 L709.57 344.58 L709.87 344.38 L710.17 344.17 L710.46 343.97 L710.76 343.76 L711.06 343.56 L711.36 343.35 L711.65 343.15 L711.95 342.94 L712.25 342.73 L712.55 342.53 L712.84 342.32 L713.14 342.11 L713.44 341.91 L713.74 341.7 L714.04 341.49 L714.33 341.28 L714.63 341.07 L714.93 340.87 L715.23 340.66 L715.52 340.45 L715.82 340.24 L716.12 340.03 L716.42 339.82 L716.71 339.61 L717.01 339.4 L717.31 339.19 L717.61 338.98 L717.9 338.77 L718.2 338.56 L718.4 338.42" fill="none" stroke="#ff4050" stroke-width="1.85" stroke-dasharray="1.0 3" stroke-dashoffset="0.5"/>
<path d="M420.9 477.01 L421.5 489.46 L422.09 499.97 L422.69 508.84 L423.28 516.33 L423.88 522.65 L424.47 527.99 L425.07 532.5 L425.66 536.31 L426.26 539.52 L426.85 542.24 L427.45 544.54 L428.04 546.49 L428.64 548.13 L429.23 549.52 L429.83 550.7 L430.42 551.7 L431.02 552.55 L431.62 553.26 L432.21 553.87 L432.81 554.39 L433.4 554.83 L434 555.21 L434.59 555.53 L435.19 555.81 L435.78 556.04 L436.38 556.24 L436.97 556.42 L437.57 556.57 L438.16 556.7 L438.76 556.81 L439.35 556.91 L439.95 557 L440.54 557.07 L441.14 557.14 L441.74 557.2 L442.33 557.25 L442.93 557.3 L443.52 557.34 L444.12 557.38 L444.71 557.42 L445.31 557.45 L445.9 557.48 L446.5 557.51 L447.09 557.54 L447.69 557.56 L448.28 557.59 L448.88 557.61 L449.47 557.63 L450.07 557.65 L450.66 557.67 L451.26 557.69 L451.86 557.71 L452.45 557.73 L453.05 557.74 L453.64 557.76 L454.24 557.78 L454.83 557.79 L455.43 557.81 L456.02 557.82 L456.62 557.84 L457.21 557.85 L457.81 557.86 L458.4 557.88 L459 557.89 L459.59 557.9 L460.19 557.92 L460.78 557.93 L461.38 557.94 L461.98 557.95 L462.57 557.96 L463.17 557.98 L463.76 557.99 L464.36 558 L464.95 558.01 L465.55 558.02 L466.14 558.03 L466.74 558.04 L467.33 558.05 L467.93 558.06 L468.52 558.07 L469.12 558.08 L469.71 558.09 L470.31 558.1 L470.91 558.11 L471.5 558.11 L472.1 558.12 L472.69 558.13 L473.29 558.14 L473.88 558.15 L474.48 558.16 L475.07 558.16 L475.67 558.17 L476.26 558.18 L476.86 558.19 L477.45 558.19 L478.05 558.2 L478.64 558.21 L479.24 558.22 L479.83 558.22 L480.43 558.23 L481.03 558.24 L481.62 558.24 L482.22 558.25 L482.81 558.26 L483.41 558.26 L484 558.27 L484.6 558.27 L485.19 558.28 L485.79 558.28 L486.38 558.29 L486.98 558.3 L487.57 558.3 L488.17 558.31 L488.76 558.31 L489.36 558.32 L489.95 558.32 L490.55 558.33 L491.15 558.33 L491.74 558.34 L492.34 558.34 L492.93 558.35 L493.53 558.35 L494.12 558.36 L494.72 558.36 L495.31 558.36 L495.91 558.37 L496.5 558.37 L497.1 558.38 L497.69 558.38 L498.29 558.38 L498.88 558.39 L499.48 558.39 L500.07 558.4 L500.67 558.4 L501.27 558.4 L501.86 558.41 L502.46 558.41 L503.05 558.41 L503.65 558.42 L504.24 558.42 L504.84 558.42 L505.43 558.43 L506.03 558.43 L506.62 558.43 L507.22 558.44 L507.81 558.44 L508.41 558.44 L509 558.44 L509.6 558.45 L510.19 558.45 L510.79 558.45 L511.39 558.45 L511.98 558.46 L512.58 558.46 L513.17 558.46 L513.77 558.46 L514.36 558.47 L514.96 558.47 L515.55 558.47 L516.15 558.47 L516.74 558.48 L517.34 558.48 L517.93 558.48 L518.53 558.48 L519.12 558.49 L519.72 558.49 L520.31 558.49 L520.91 558.49 L521.51 558.49 L522.1 558.49 L522.7 558.5 L523.29 558.5 L523.89 558.5 L524.48 558.5 L525.08 558.5 L525.67 558.51 L526.27 558.51 L526.86 558.51 L527.46 558.51 L528.05 558.51 L528.65 558.51 L529.24 558.52 L529.84 558.52 L530.43 558.52 L531.03 558.52 L531.63 558.52 L532.22 558.52 L532.82 558.52 L533.41 558.53 L534.01 558.53 L534.6 558.53 L535.2 558.53 L535.79 558.53 L536.39 558.53 L536.98 558.53 L537.58 558.53 L538.17 558.54 L538.77 558.54 L539.36 558.54 L539.96 558.54 L540.55 558.54 L541.15 558.54 L541.75 558.54 L542.34 558.54 L542.94 558.54 L543.53 558.55 L544.13 558.55 L544.72 558.55 L545.32 558.55 L545.91 558.55 L546.51 558.55 L547.1 558.55 L547.7 558.55 L548.29 558.55 L548.89 558.55 L549.48 558.55 L550.08 558.55 L550.67 558.56 L551.27 558.56 L551.87 558.56 L552.46 558.56 L553.06 558.56 L553.65 558.56 L554.25 558.56 L554.84 558.56 L555.44 558.56 L556.03 558.56 L556.63 558.56 L557.22 558.56 L557.82 558.56 L558.41 558.56 L559.01 558.57 L559.6 558.57 L560.2 558.57 L560.79 558.57 L561.39 558.57 L561.99 558.57 L562.58 558.57 L563.18 558.57 L563.77 558.57 L564.37 558.57 L564.96 558.57 L565.56 558.57 L566.15 558.57 L566.75 558.57 L567.34 558.57 L567.94 558.57 L568.53 558.57 L569.13 558.57 L569.72 558.58 L570.32 558.58 L570.92 558.58 L571.51 558.58 L572.11 558.58 L572.7 558.58 L573.3 558.58 L573.89 558.58 L574.49 558.58 L575.08 558.58 L575.68 558.58 L576.27 558.58 L576.87 558.58 L577.46 558.58 L578.06 558.58 L578.65 558.58 L579.25 558.58 L579.84 558.58 L580.44 558.58 L581.04 558.58 L581.63 558.58 L582.23 558.58 L582.82 558.58 L583.42 558.58 L584.01 558.58 L584.61 558.58 L585.2 558.58 L585.8 558.58 L586.39 558.58 L586.99 558.59 L587.58 558.59 L588.18 558.59 L588.77 558.59 L589.37 558.59 L589.96 558.59 L590.56 558.59 L591.16 558.59 L591.75 558.59 L592.35 558.59 L592.94 558.59 L593.54 558.59 L594.13 558.59 L594.73 558.59 L595.32 558.59 L595.92 558.59 L596.51 558.59 L597.11 558.59 L597.7 558.59 L598.3 558.59 L598.89 558.59 L599.49 558.59 L600.08 558.59 L600.68 558.59 L601.28 558.59 L601.87 558.59 L602.47 558.59 L603.06 558.59 L603.66 558.59 L604.25 558.59 L604.85 558.59 L605.44 558.59 L606.04 558.59 L606.63 558.59 L607.23 558.59 L607.82 558.59 L608.42 558.59 L609.01 558.59 L609.61 558.59 L610.2 558.59 L610.8 558.59 L611.4 558.59 L611.99 558.59 L612.59 558.59 L613.18 558.59 L613.78 558.59 L614.37 558.59 L614.97 558.59 L615.56 558.59 L616.16 558.59 L616.75 558.59 L617.35 558.59 L617.94 558.59 L618.54 558.59 L619.13 558.59 L619.73 558.59 L620.32 558.59 L620.92 558.59 L621.52 558.59 L622.11 558.59 L622.71 558.59 L623.3 558.6 L623.9 558.6 L624.49 558.6 L625.09 558.6 L625.68 558.6 L626.28 558.6 L626.87 558.6 L627.47 558.6 L628.06 558.6 L628.66 558.6 L629.25 558.6 L629.85 558.6 L630.44 558.6 L631.04 558.6 L631.64 558.6 L632.23 558.6 L632.83 558.6 L633.42 558.6 L634.02 558.6 L634.61 558.6 L635.21 558.6 L635.8 558.6 L636.4 558.6 L636.99 558.6 L637.59 558.6 L638.18 558.6 L638.78 558.6 L639.37 558.6 L639.97 558.6 L640.56 558.6 L641.16 558.6 L641.76 558.6 L642.35 558.6 L642.95 558.6 L643.54 558.6 L644.14 558.6 L644.73 558.6 L645.33 558.6 L645.92 558.6 L646.52 558.6 L647.11 558.6 L647.71 558.6 L648.3 558.6 L648.9 558.6 L649.49 558.6 L650.09 558.6 L650.68 558.6 L651.28 558.6 L651.88 558.6 L652.47 558.6 L653.07 558.6 L653.66 558.6 L654.26 558.6 L654.85 558.6 L655.45 558.6 L656.04 558.6 L656.64 558.6 L657.23 558.6 L657.83 558.6 L658.42 558.6 L659.02 558.6 L659.61 558.6 L660.21 558.6 L660.8 558.6 L661.4 558.6 L662 558.6 L662.59 558.6 L663.19 558.6 L663.78 558.6 L664.38 558.6 L664.97 558.6 L665.57 558.6 L666.16 558.6 L666.76 558.6 L667.35 558.6 L667.95 558.6 L668.54 558.6 L669.14 558.6 L669.73 558.6 L670.33 558.6 L670.93 558.6 L671.52 558.6 L672.12 558.6 L672.71 558.6 L673.31 558.6 L673.9 558.6 L674.5 558.6 L675.09 558.6 L675.69 558.6 L676.28 558.6 L676.88 558.6 L677.47 558.6 L678.07 558.6 L678.66 558.6 L679.26 558.6 L679.85 558.6 L680.45 558.6 L681.05 558.6 L681.64 558.6 L682.24 558.6 L682.83 558.6 L683.43 558.6 L684.02 558.6 L684.62 558.6 L685.21 558.6 L685.81 558.6 L686.4 558.6 L687 558.6 L687.59 558.6 L688.19 558.6 L688.78 558.6 L689.38 558.6 L689.97 558.6 L690.57 558.6 L691.17 558.6 L691.76 558.6 L692.36 558.6 L692.95 558.6 L693.55 558.6 L694.14 558.6 L694.74 558.6 L695.33 558.6 L695.93 558.6 L696.52 558.6 L697.12 558.6 L697.71 558.6 L698.31 558.6 L698.9 558.6 L699.5 558.6 L700.09 558.6 L700.69 558.6 L701.29 558.6 L701.88 558.6 L702.48 558.6 L703.07 558.6 L703.67 558.6 L704.26 558.6 L704.86 558.6 L705.45 558.6 L706.05 558.6 L706.64 558.6 L707.24 558.6 L707.83 558.6 L708.43 558.6 L709.02 558.6 L709.62 558.6 L710.21 558.6 L710.81 558.6 L711.41 558.6 L712 558.6 L712.6 558.6 L713.19 558.6 L713.79 558.6 L714.38 558.6 L714.98 558.6 L715.57 558.6 L716.17 558.6 L716.76 558.6 L717.36 558.6 L717.95 558.6 L718.4 558.6" fill="none" stroke="#0000ff" stroke-width="2.1" stroke-linejoin="round" stroke-linecap="butt"/>
</g>
<rect x="429.4" y="341.4" width="129" height="30.9" fill="#fff" stroke="#858585" stroke-width="1"/>
<g fill="#ff6a74"><rect x="434.73" y="347.7" width="1.15" height="2"/><rect x="438.73" y="347.7" width="1.15" height="2"/><rect x="442.73" y="347.7" width="1.15" height="2"/><rect x="446.73" y="347.7" width="1.15" height="2"/><rect x="450.73" y="347.7" width="1.15" height="2"/><rect x="454.73" y="347.7" width="1.15" height="2"/><rect x="458.73" y="347.7" width="1.15" height="2"/></g>
<path d="M435.2 363H462.6" stroke="#0000ff" stroke-width="2.1"/>
<g font-size="9.0" fill="#1a1a1a"><text transform="translate(465.5 352.4) scale(1 1.0)">Without Control</text><text transform="translate(465.5 364.8) scale(1 1.0)">Optimal u<tspan font-size="7.2" dy="4.23">1</tspan><tspan dx="0.2" dy="-4.23">, u</tspan><tspan font-size="7.2" dy="4.23">3</tspan><tspan dx="0.2" dy="-4.23">, and u</tspan><tspan font-size="7.2" dy="4.23">4</tspan></text></g>
<text transform="translate(421 330.3) scale(1 1.0)" font-size="9.0" fill="#1a1a1a">x 10<tspan font-size="6.48" dy="-5.58">5</tspan></text>
<text transform="translate(406.5 446.5) rotate(-90) scale(1 1.0)" text-anchor="middle" font-size="9.0" fill="#1a1a1a">I(t)</text>
<text transform="translate(569.7 580) scale(1 1.0)" text-anchor="middle" font-size="9.0" fill="#1a1a1a">Time (Days)</text>
<text class="cap" x="562.4" y="602.6" text-anchor="middle" font-family='"Liberation Serif", serif' font-size="15" fill="#1a1a1a">(d)</text>
</svg>
</body></html>
